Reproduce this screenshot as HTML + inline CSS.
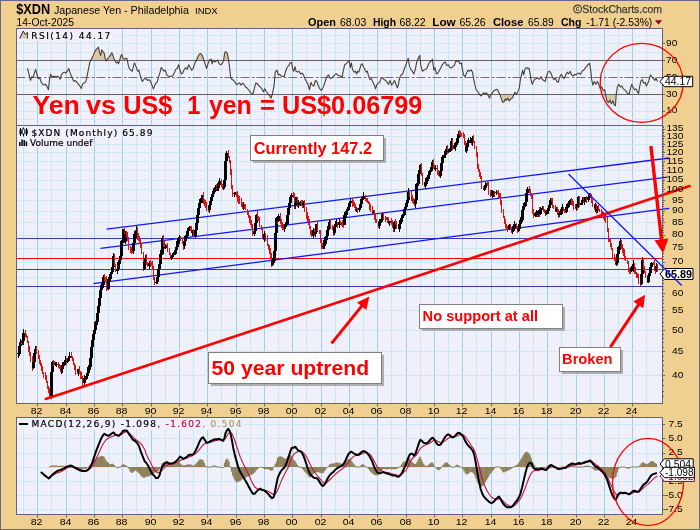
<!DOCTYPE html>
<html><head><meta charset="utf-8"><title>$XDN Japanese Yen - Philadelphia</title>
<style>html,body{margin:0;padding:0;background:#f0d090;}svg{display:block}</style></head>
<body><svg width="700" height="530" viewBox="0 0 700 530" font-family="'Liberation Sans', Arial, sans-serif">
<rect x="0" y="0" width="700" height="530" fill="#f0d090"/>
<rect x="0.5" y="0.5" width="699" height="529" fill="none" stroke="#686888" stroke-width="1"/>
<rect x="16.5" y="28.5" width="646.0" height="375.0" fill="#f0f0fa"/>
<rect x="16.5" y="417.5" width="646.0" height="97.0" fill="#f0f0fa"/>
<path d="M23.5 28.5V403.5M23.5 417.5V514.5" stroke="#c6e8f2" stroke-width="1"/><path d="M37.5 28.5V403.5M37.5 417.5V514.5" stroke="#a0d0ee" stroke-width="1"/><path d="M51.5 28.5V403.5M51.5 417.5V514.5" stroke="#c6e8f2" stroke-width="1"/><path d="M66.5 28.5V403.5M66.5 417.5V514.5" stroke="#a0d0ee" stroke-width="1"/><path d="M80.5 28.5V403.5M80.5 417.5V514.5" stroke="#c6e8f2" stroke-width="1"/><path d="M94.5 28.5V403.5M94.5 417.5V514.5" stroke="#a0d0ee" stroke-width="1"/><path d="M108.5 28.5V403.5M108.5 417.5V514.5" stroke="#c6e8f2" stroke-width="1"/><path d="M122.5 28.5V403.5M122.5 417.5V514.5" stroke="#a0d0ee" stroke-width="1"/><path d="M136.5 28.5V403.5M136.5 417.5V514.5" stroke="#c6e8f2" stroke-width="1"/><path d="M151.5 28.5V403.5M151.5 417.5V514.5" stroke="#a0d0ee" stroke-width="1"/><path d="M165.5 28.5V403.5M165.5 417.5V514.5" stroke="#c6e8f2" stroke-width="1"/><path d="M179.5 28.5V403.5M179.5 417.5V514.5" stroke="#a0d0ee" stroke-width="1"/><path d="M193.5 28.5V403.5M193.5 417.5V514.5" stroke="#c6e8f2" stroke-width="1"/><path d="M207.5 28.5V403.5M207.5 417.5V514.5" stroke="#a0d0ee" stroke-width="1"/><path d="M221.5 28.5V403.5M221.5 417.5V514.5" stroke="#c6e8f2" stroke-width="1"/><path d="M236.5 28.5V403.5M236.5 417.5V514.5" stroke="#a0d0ee" stroke-width="1"/><path d="M250.5 28.5V403.5M250.5 417.5V514.5" stroke="#c6e8f2" stroke-width="1"/><path d="M264.5 28.5V403.5M264.5 417.5V514.5" stroke="#a0d0ee" stroke-width="1"/><path d="M278.5 28.5V403.5M278.5 417.5V514.5" stroke="#c6e8f2" stroke-width="1"/><path d="M292.5 28.5V403.5M292.5 417.5V514.5" stroke="#a0d0ee" stroke-width="1"/><path d="M306.5 28.5V403.5M306.5 417.5V514.5" stroke="#c6e8f2" stroke-width="1"/><path d="M321.5 28.5V403.5M321.5 417.5V514.5" stroke="#a0d0ee" stroke-width="1"/><path d="M335.5 28.5V403.5M335.5 417.5V514.5" stroke="#c6e8f2" stroke-width="1"/><path d="M349.5 28.5V403.5M349.5 417.5V514.5" stroke="#a0d0ee" stroke-width="1"/><path d="M363.5 28.5V403.5M363.5 417.5V514.5" stroke="#c6e8f2" stroke-width="1"/><path d="M377.5 28.5V403.5M377.5 417.5V514.5" stroke="#a0d0ee" stroke-width="1"/><path d="M391.5 28.5V403.5M391.5 417.5V514.5" stroke="#c6e8f2" stroke-width="1"/><path d="M406.5 28.5V403.5M406.5 417.5V514.5" stroke="#a0d0ee" stroke-width="1"/><path d="M420.5 28.5V403.5M420.5 417.5V514.5" stroke="#c6e8f2" stroke-width="1"/><path d="M434.5 28.5V403.5M434.5 417.5V514.5" stroke="#a0d0ee" stroke-width="1"/><path d="M448.5 28.5V403.5M448.5 417.5V514.5" stroke="#c6e8f2" stroke-width="1"/><path d="M462.5 28.5V403.5M462.5 417.5V514.5" stroke="#a0d0ee" stroke-width="1"/><path d="M476.5 28.5V403.5M476.5 417.5V514.5" stroke="#c6e8f2" stroke-width="1"/><path d="M491.5 28.5V403.5M491.5 417.5V514.5" stroke="#a0d0ee" stroke-width="1"/><path d="M505.5 28.5V403.5M505.5 417.5V514.5" stroke="#c6e8f2" stroke-width="1"/><path d="M519.5 28.5V403.5M519.5 417.5V514.5" stroke="#a0d0ee" stroke-width="1"/><path d="M533.5 28.5V403.5M533.5 417.5V514.5" stroke="#c6e8f2" stroke-width="1"/><path d="M547.5 28.5V403.5M547.5 417.5V514.5" stroke="#a0d0ee" stroke-width="1"/><path d="M561.5 28.5V403.5M561.5 417.5V514.5" stroke="#c6e8f2" stroke-width="1"/><path d="M576.5 28.5V403.5M576.5 417.5V514.5" stroke="#a0d0ee" stroke-width="1"/><path d="M590.5 28.5V403.5M590.5 417.5V514.5" stroke="#c6e8f2" stroke-width="1"/><path d="M604.5 28.5V403.5M604.5 417.5V514.5" stroke="#a0d0ee" stroke-width="1"/><path d="M618.5 28.5V403.5M618.5 417.5V514.5" stroke="#c6e8f2" stroke-width="1"/><path d="M632.5 28.5V403.5M632.5 417.5V514.5" stroke="#a0d0ee" stroke-width="1"/><path d="M646.5 28.5V403.5M646.5 417.5V514.5" stroke="#c6e8f2" stroke-width="1"/>
<path d="M16.5 111.5H662.5" stroke="#cdeaf3" stroke-width="1" />
<path d="M16.5 102.5H662.5" stroke="#cdeaf3" stroke-width="1" />
<path d="M16.5 85.5H662.5" stroke="#cdeaf3" stroke-width="1" />
<path d="M16.5 69.5H662.5" stroke="#cdeaf3" stroke-width="1" />
<path d="M16.5 52.5H662.5" stroke="#cdeaf3" stroke-width="1" />
<path d="M16.5 43.5H662.5" stroke="#cdeaf3" stroke-width="1" />
<path d="M16.5 35.5H662.5" stroke="#cdeaf3" stroke-width="1" />
<path d="M16.5 119.5H662.5" stroke="#cdeaf3" stroke-width="1" />
<path d="M16.5 375.5H662.5" stroke="#cdeaf3" stroke-width="1" />
<path d="M16.5 351.5H662.5" stroke="#cdeaf3" stroke-width="1" />
<path d="M16.5 330.5H662.5" stroke="#cdeaf3" stroke-width="1" />
<path d="M16.5 310.5H662.5" stroke="#cdeaf3" stroke-width="1" />
<path d="M16.5 293.5H662.5" stroke="#cdeaf3" stroke-width="1" />
<path d="M16.5 277.5H662.5" stroke="#cdeaf3" stroke-width="1" />
<path d="M16.5 262.5H662.5" stroke="#cdeaf3" stroke-width="1" />
<path d="M16.5 248.5H662.5" stroke="#cdeaf3" stroke-width="1" />
<path d="M16.5 235.5H662.5" stroke="#cdeaf3" stroke-width="1" />
<path d="M16.5 222.5H662.5" stroke="#cdeaf3" stroke-width="1" />
<path d="M16.5 211.5H662.5" stroke="#cdeaf3" stroke-width="1" />
<path d="M16.5 200.5H662.5" stroke="#cdeaf3" stroke-width="1" />
<path d="M16.5 189.5H662.5" stroke="#cdeaf3" stroke-width="1" />
<path d="M16.5 180.5H662.5" stroke="#cdeaf3" stroke-width="1" />
<path d="M16.5 170.5H662.5" stroke="#cdeaf3" stroke-width="1" />
<path d="M16.5 161.5H662.5" stroke="#cdeaf3" stroke-width="1" />
<path d="M16.5 152.5H662.5" stroke="#cdeaf3" stroke-width="1" />
<path d="M16.5 144.5H662.5" stroke="#cdeaf3" stroke-width="1" />
<path d="M16.5 136.5H662.5" stroke="#cdeaf3" stroke-width="1" />
<path d="M16.5 129.5H662.5" stroke="#cdeaf3" stroke-width="1" />
<path d="M16.5 509.5H662.5" stroke="#cdeaf3" stroke-width="1" />
<path d="M16.5 495.5H662.5" stroke="#cdeaf3" stroke-width="1" />
<path d="M16.5 481.5H662.5" stroke="#cdeaf3" stroke-width="1" />
<path d="M16.5 467.5H662.5" stroke="#cdeaf3" stroke-width="1" />
<path d="M16.5 453.5H662.5" stroke="#cdeaf3" stroke-width="1" />
<path d="M16.5 438.5H662.5" stroke="#cdeaf3" stroke-width="1" />
<path d="M16.5 424.5H662.5" stroke="#cdeaf3" stroke-width="1" />
<rect x="17" y="29" width="97" height="12" fill="#f0f0fa"/>
<rect x="17" y="126" width="137" height="11" fill="#f0f0fa"/>
<rect x="17" y="137" width="77" height="10" fill="#f0f0fa"/>
<rect x="17" y="418" width="227" height="12" fill="#f0f0fa"/>
<polygon points="90.7,60.5 91.4,59.1 92.9,56.4 94.4,52.6 95.8,49.9 97.3,48.4 98.5,47.1 99.6,52.6 100.7,55.4 101.8,49.9 102.9,51.7 104.0,52.6 105.1,58.2 106.1,60.5" fill="#d9c8ae"/>
<polygon points="106.5,60.5 107.4,59.1 108.8,57.3 110.3,55.4 111.8,52.6 112.9,55.4 114.0,59.1 114.9,60.5" fill="#d9c8ae"/>
<polygon points="119.5,60.5 119.6,60.1 120.7,56.4 121.8,54.5 123.0,58.2 124.5,59.1 125.9,58.2 127.0,58.8 127.4,60.5" fill="#d9c8ae"/>
<polygon points="196.3,60.5 197.6,57.3 199.1,54.5 200.6,53.6 202.1,55.1 203.6,59.1 204.0,60.5" fill="#d9c8ae"/>
<polygon points="209.3,60.5 209.5,60.1 211.0,59.1 211.3,60.5" fill="#d9c8ae"/>
<polygon points="213.1,60.5 213.2,60.1 213.6,60.5" fill="#d9c8ae"/>
<polygon points="217.0,60.5 217.7,60.1 217.9,60.5" fill="#d9c8ae"/>
<polygon points="223.4,60.5 223.6,60.1 224.7,52.6 225.8,51.7 227.3,53.6 228.4,59.1 228.6,60.5" fill="#d9c8ae"/>
<polygon points="407.3,60.5 408.2,58.2 408.6,60.5" fill="#d9c8ae"/>
<polygon points="417.3,60.5 418.3,58.2 419.7,55.4 420.3,60.5" fill="#d9c8ae"/>
<polygon points="431.6,60.5 432.4,59.1 432.6,60.5" fill="#d9c8ae"/>
<polygon points="268.6,94.5 269.3,95.3 271.2,98.1 272.1,94.5" fill="#d9c8ae"/>
<polygon points="479.8,94.5 480.6,95.9 482.1,94.8 482.3,94.5" fill="#d9c8ae"/>
<polygon points="487.6,94.5 488.1,95.3 489.6,98.1 491.0,94.5" fill="#d9c8ae"/>
<polygon points="500.0,94.5 501.1,98.1 502.6,102.2 504.1,101.8 505.2,99.1 506.3,100.4 507.8,98.1 509.2,100.9 510.7,99.1 512.2,98.1 513.7,95.3 514.0,94.5" fill="#d9c8ae"/>
<polygon points="605.5,94.5 605.8,96.3 606.9,100.9 608.4,102.8 609.9,100.0 611.4,103.7 612.9,100.9 614.4,105.2 615.5,105.6 616.2,94.5" fill="#d9c8ae"/>
<path d="M16.5 60.5H662.5" stroke="#606060" stroke-width="1" />
<path d="M16.5 94.5H662.5" stroke="#606060" stroke-width="1" />
<path d="M16.5 77.5H662.5" stroke="#707070" stroke-width="1" stroke-dasharray="9 2.5 2.5 2"/>
<polyline fill="none" stroke="#484038" stroke-width="1.1" stroke-linejoin="round" points="27.51,68.43 29.0,74.0 30.48,80.5 31.78,76.78 33.08,77.71 34.57,72.14 35.68,69.35 36.8,74.0 38.28,78.64 39.77,77.71 41.26,82.35 42.74,84.21 44.23,85.14 45.71,84.21 47.2,87.0 48.5,89.78 49.43,79.57 50.54,74.37 52.03,76.78 53.88,76.23 55.74,76.78 57.6,76.23 59.08,77.34 60.2,79.2 61.31,74.93 62.8,73.07 64.28,72.14 65.77,73.07 67.25,71.21 68.74,68.43 69.85,72.14 71.34,75.85 72.82,79.57 73.94,81.43 75.42,80.5 76.91,82.35 78.4,84.21 79.88,86.07 81.37,88.48 82.48,84.21 83.97,82.91 85.45,82.35 86.57,78.64 87.68,73.07 88.79,67.5 89.91,61.93 91.39,59.14 92.88,56.36 94.37,52.64 95.85,49.86 97.34,48.37 98.45,47.07 99.57,52.64 100.68,55.43 101.79,49.86 102.91,51.71 104.02,52.64 105.14,58.21 106.25,61.0 107.36,59.14 108.85,57.28 110.34,55.43 111.82,52.64 112.94,55.43 114.05,59.14 115.16,61.0 116.28,62.86 117.39,61.93 118.51,63.78 119.62,60.07 120.74,56.36 121.85,54.5 122.96,58.21 124.45,59.14 125.94,58.21 127.05,58.77 128.16,64.71 129.28,68.43 130.76,70.28 132.25,71.21 133.36,66.57 134.48,62.86 135.59,65.64 136.71,68.43 137.82,71.21 138.93,70.28 140.05,74.93 141.16,78.64 142.28,81.43 143.76,79.57 144.88,78.64 146.0,78.64 147.49,80.5 148.97,79.57 150.46,81.43 151.94,85.14 153.43,88.85 154.54,86.07 155.66,83.28 157.14,82.35 158.63,76.78 160.11,72.14 161.23,67.5 162.71,69.35 163.83,71.21 165.31,70.28 166.8,74.93 168.28,75.85 169.77,76.78 171.26,76.23 172.74,75.85 174.23,73.07 175.71,69.35 177.2,68.43 178.68,64.71 179.8,69.35 181.28,74.0 182.77,73.07 184.25,69.35 185.74,67.5 187.23,69.35 188.71,64.71 190.2,67.5 191.68,70.28 193.17,68.43 194.65,63.78 196.14,61.0 197.62,57.28 199.11,54.5 200.6,53.57 202.08,55.06 203.57,59.14 205.05,63.78 206.54,68.43 208.02,63.78 209.51,60.07 211.0,59.14 212.11,63.78 213.22,60.07 214.71,61.93 216.19,61.0 217.68,60.07 219.17,63.78 220.65,64.71 222.14,63.78 223.62,60.07 224.74,52.64 225.85,51.71 227.34,53.57 228.45,59.14 229.57,67.5 230.68,77.71 232.17,79.57 233.65,80.5 235.14,82.35 236.62,84.77 238.11,83.65 239.59,82.91 241.08,85.14 242.56,83.28 244.05,84.21 245.54,87.0 247.02,87.92 248.51,89.78 249.99,91.64 251.48,93.5 252.96,94.05 254.45,87.92 255.94,82.91 257.42,83.65 258.91,86.07 260.39,87.0 261.88,88.85 263.36,91.64 264.85,88.85 266.33,91.64 267.82,93.5 269.31,95.35 271.16,98.14 272.65,92.57 274.13,85.14 275.25,72.14 276.0,71.21 277.11,70.28 278.23,74.93 279.71,74.37 281.2,75.85 282.69,76.23 284.17,76.78 285.66,71.21 287.14,67.5 288.63,65.64 290.11,62.86 291.6,62.48 292.71,69.35 293.83,71.21 294.94,66.57 296.06,71.21 297.54,72.14 299.03,71.21 300.51,74.0 302.0,73.07 303.48,74.93 304.97,78.64 306.45,81.43 307.94,84.21 309.43,89.78 310.91,82.35 312.4,85.14 313.88,86.07 315.37,80.5 316.85,81.43 318.34,86.07 319.83,88.85 321.31,90.34 322.8,87.92 324.28,84.21 325.77,79.57 327.25,75.85 328.74,74.93 330.22,78.64 331.71,77.71 333.2,76.78 334.68,74.93 336.17,73.63 337.65,74.93 339.14,75.48 340.62,76.23 342.11,76.78 343.22,71.21 344.71,64.71 346.19,63.78 347.68,61.93 349.17,61.0 350.28,67.5 351.39,62.86 352.51,69.35 353.99,72.14 355.48,71.21 356.59,74.0 357.71,71.21 358.82,72.14 359.94,68.43 361.05,64.71 362.17,63.78 363.28,66.57 364.77,69.35 366.25,72.14 367.36,71.21 368.48,75.85 369.96,79.57 371.45,78.64 372.94,82.35 374.42,85.14 375.54,88.85 376.65,85.14 378.14,83.28 379.62,82.35 381.11,78.64 382.59,77.71 384.08,79.57 385.56,80.5 387.05,82.35 388.53,84.21 390.02,80.5 391.51,85.14 392.99,83.28 394.48,80.5 395.96,84.21 397.45,87.92 398.56,84.21 399.68,77.71 401.16,74.93 402.65,74.0 404.13,69.35 405.25,66.57 406.0,64.71 407.11,61.0 408.23,58.21 409.34,65.64 410.83,69.35 412.31,71.21 413.8,74.0 415.29,69.35 416.77,61.93 418.26,58.21 419.74,55.43 420.86,65.64 422.34,71.21 423.83,70.28 425.31,69.35 426.8,68.43 428.28,64.71 429.77,61.93 431.26,61.0 432.37,59.14 433.86,70.28 434.97,67.5 436.45,74.0 437.94,73.07 439.43,70.28 440.91,67.5 442.4,64.71 443.88,62.86 445.37,61.93 446.85,65.64 448.34,64.71 449.83,67.5 451.31,68.05 452.8,66.57 454.28,65.64 455.77,61.0 457.25,61.37 458.74,61.0 459.85,63.78 461.34,62.86 462.45,69.35 463.57,74.93 465.05,76.78 466.54,73.07 468.02,70.28 469.51,71.21 471.0,69.91 472.48,72.14 473.6,78.64 474.71,84.21 476.19,89.78 477.68,91.64 479.17,93.5 480.65,95.91 482.14,94.8 483.62,92.57 485.11,94.05 486.59,92.94 488.08,95.35 489.57,98.14 491.05,94.42 492.54,92.57 494.02,90.71 495.51,89.78 496.99,89.22 498.48,91.64 499.96,94.42 501.08,98.14 502.56,102.22 504.05,101.85 505.16,99.07 506.28,100.37 507.76,98.14 509.25,100.92 510.74,99.07 512.22,98.14 513.71,95.35 514.82,92.2 516.31,94.42 517.79,91.64 519.28,87.92 520.39,79.57 521.51,74.93 522.62,70.28 523.73,74.93 524.85,69.35 526.33,67.5 527.82,68.43 528.93,68.05 530.05,73.07 531.16,80.5 532.28,84.21 533.39,81.43 534.51,79.57 536.0,78.64 537.86,78.08 539.34,79.2 540.83,76.78 542.31,79.57 543.8,80.5 545.29,81.43 546.4,76.78 547.88,72.14 549.37,71.21 550.86,73.07 552.34,76.78 553.83,79.57 555.31,77.71 556.8,81.43 558.28,82.35 559.77,76.78 561.26,74.37 562.74,76.78 564.23,78.64 565.71,74.93 567.2,72.14 568.68,74.0 570.17,71.21 571.65,74.93 573.14,75.85 574.63,74.37 576.11,74.93 577.6,73.63 579.08,73.07 580.57,74.37 582.05,71.21 583.54,70.28 585.03,68.43 586.51,66.57 588.0,64.71 589.48,63.23 590.6,69.35 591.71,79.57 592.82,85.14 594.31,81.43 595.8,84.21 597.28,81.43 598.77,84.21 600.25,88.85 601.74,87.0 603.22,90.71 604.71,89.78 605.82,96.28 606.94,100.92 608.42,102.78 609.91,100.0 611.39,103.71 612.88,100.92 614.37,105.19 615.48,105.57 616.22,94.42 617.34,87.0 618.82,84.21 620.31,87.0 621.79,86.07 623.28,88.85 624.77,89.78 626.25,91.64 627.74,93.5 629.22,94.05 630.34,88.85 631.82,84.21 632.94,87.0 634.42,89.78 635.91,88.85 637.39,91.64 638.51,93.5 639.62,87.0 640.74,81.43 642.22,79.57 643.71,83.28 645.19,82.35 646.31,86.07 647.42,84.21 648.91,80.5 650.39,74.93 651.88,76.78 653.36,78.64 654.85,80.5 655.96,78.08 657.45,81.43"/>
<path d="M16.5 238.5H662.5" stroke="#3a3ac0" stroke-width="1" />
<path d="M16.5 269.5H662.5" stroke="#3a3ac0" stroke-width="1" />
<path d="M16.5 286.5H662.5" stroke="#3a3ac0" stroke-width="1" />
<path d="M16.5 258.5H662.5" stroke="#ff0000" stroke-width="1" />
<line x1="106.6" y1="229.2" x2="669.3" y2="158" stroke="#1414ff" stroke-width="1.3"/>
<line x1="100.4" y1="248.3" x2="667.4" y2="177.2" stroke="#1414ff" stroke-width="1.3"/>
<line x1="93.4" y1="283.6" x2="669.3" y2="208.4" stroke="#1414ff" stroke-width="1.3"/>
<g shape-rendering="crispEdges">
<path d="M17.5 350.7h1V353.1h1V354.3h-1V357.8h-1V354.3h-1V353.1h1zM18.5 343.9h1V346.1h1V353.6h-1V356.0h-1V353.6h-1V346.1h1zM19.5 339.4h1V341.6h1V346.1h-1V348.6h-1V346.1h-1V341.6h1z" fill="#000"/>
<path d="M20.5 340.4h1V341.2h0.5V342.4h-0.5V343.9h-1z" fill="#e01010"/>
<path d="M21.5 338.0h1V341.1h1V342.3h-1V345.1h-1V342.3h-1V341.1h1zM22.5 329.1h1V332.9h1V341.4h-1V345.1h-1V341.4h-1V332.9h1z" fill="#000"/>
<path d="M24.5 330.3h1V332.9h0.5V336.2h-0.5V337.2h-1zM25.5 333.9h1V336.2h0.5V337.4h-0.5V338.1h-1zM26.5 336.1h1V337.4h0.5V342.7h-0.5V343.3h-1zM27.5 340.7h1V342.7h0.5V348.5h-0.5V351.8h-1zM28.5 345.9h1V348.5h0.5V353.7h-0.5V355.8h-1zM29.5 351.7h1V353.7h0.5V360.2h-0.5V361.6h-1zM31.5 356.4h1V360.2h0.5V367.8h-0.5V371.0h-1z" fill="#e01010"/>
<path d="M32.5 360.1h1V361.7h1V367.8h-1V369.0h-1V367.8h-1V361.7h1zM33.5 352.5h1V353.2h1V361.7h-1V364.7h-1V361.7h-1V353.2h1zM34.5 345.8h1V349.1h1V353.2h-1V355.0h-1V353.2h-1V349.1h1z" fill="#000"/>
<path d="M35.5 345.8h1V349.1h0.5V353.0h-0.5V353.5h-1zM37.5 349.5h1V353.0h0.5V356.8h-0.5V358.8h-1zM38.5 354.9h1V356.8h0.5V362.7h-0.5V363.5h-1zM39.5 359.7h1V362.7h0.5V364.9h-0.5V366.3h-1zM40.5 363.3h1V364.9h0.5V366.8h-0.5V370.5h-1zM41.5 365.9h1V366.8h0.5V373.1h-0.5V374.4h-1zM42.5 372.4h1V373.1h0.5V374.4h-0.5V377.5h-1zM44.5 372.0h1V374.4h0.5V378.2h-0.5V380.2h-1zM45.5 375.3h1V378.2h0.5V381.8h-0.5V382.8h-1zM46.5 381.0h1V381.8h0.5V387.1h-0.5V389.0h-1zM47.5 385.7h1V387.1h0.5V389.4h-0.5V393.1h-1zM48.5 387.9h1V389.4h0.5V395.7h-0.5V399.1h-1z" fill="#e01010"/>
<path d="M50.5 369.7h1V371.5h1V395.7h-1V399.0h-1V395.7h-1V371.5h1zM51.5 360.6h1V361.5h1V371.5h-1V375.2h-1V371.5h-1V361.5h1z" fill="#000"/>
<path d="M52.5 360.0h1V361.3h0.5V362.5h-0.5V365.6h-1zM53.5 360.9h1V362.4h0.5V364.7h-0.5V365.4h-1z" fill="#e01010"/>
<path d="M54.5 361.5h1V363.9h1V365.1h-1V366.4h-1V365.1h-1V363.9h1zM55.5 362.0h1V363.7h1V364.9h-1V366.9h-1V364.9h-1V363.7h1z" fill="#000"/>
<path d="M57.5 362.0h1V364.1h0.5V365.3h-0.5V367.7h-1zM58.5 364.1h1V365.2h0.5V367.8h-0.5V368.8h-1zM59.5 364.6h1V367.8h0.5V370.1h-0.5V371.5h-1z" fill="#e01010"/>
<path d="M60.5 366.1h1V369.0h1V370.2h-1V373.8h-1V370.2h-1V369.0h1zM61.5 361.6h1V365.2h1V369.0h-1V372.5h-1V369.0h-1V365.2h1zM63.5 359.8h1V361.7h1V365.2h-1V366.1h-1V365.2h-1V361.7h1zM64.5 356.0h1V359.7h1V361.7h-1V363.0h-1V361.7h-1V359.7h1z" fill="#000"/>
<path d="M65.5 358.3h1V359.7h0.5V361.8h-0.5V365.0h-1z" fill="#e01010"/>
<path d="M66.5 359.3h1V360.7h1V361.9h-1V363.0h-1V361.9h-1V360.7h1zM67.5 357.6h1V358.3h1V360.8h-1V362.1h-1V360.8h-1V358.3h1zM68.5 352.2h1V355.5h1V358.3h-1V360.9h-1V358.3h-1V355.5h1z" fill="#000"/>
<path d="M70.5 352.0h1V355.5h0.5V357.2h-0.5V358.4h-1zM71.5 355.8h1V357.2h0.5V359.2h-0.5V361.1h-1zM72.5 358.1h1V359.2h0.5V363.4h-0.5V365.2h-1zM73.5 362.5h1V363.4h0.5V368.4h-0.5V370.1h-1zM74.5 364.7h1V368.4h0.5V371.9h-0.5V374.5h-1zM76.5 369.0h1V371.4h0.5V372.6h-0.5V373.6h-1z" fill="#e01010"/>
<path d="M77.5 368.7h1V369.3h1V372.2h-1V375.7h-1V372.2h-1V369.3h1z" fill="#000"/>
<path d="M78.5 365.6h1V369.3h0.5V373.1h-0.5V373.6h-1zM79.5 371.0h1V373.1h0.5V375.8h-0.5V378.7h-1zM80.5 372.0h1V375.8h0.5V378.5h-0.5V379.2h-1zM81.5 375.6h1V378.5h0.5V383.1h-0.5V386.6h-1z" fill="#e01010"/>
<path d="M83.5 375.3h1V378.2h1V383.1h-1V386.2h-1V383.1h-1V378.2h1zM84.5 375.7h1V377.4h1V378.6h-1V381.3h-1V378.6h-1V377.4h1zM85.5 373.0h1V376.4h1V377.8h-1V379.7h-1V377.8h-1V376.4h1zM86.5 369.1h1V372.5h1V376.4h-1V378.8h-1V376.4h-1V372.5h1zM87.5 365.3h1V367.1h1V372.5h-1V374.9h-1V372.5h-1V367.1h1zM89.5 357.0h1V357.7h1V367.1h-1V369.7h-1V367.1h-1V357.7h1zM90.5 343.6h1V347.0h1V357.7h-1V360.7h-1V357.7h-1V347.0h1zM91.5 337.1h1V340.0h1V347.0h-1V349.4h-1V347.0h-1V340.0h1zM92.5 331.0h1V334.3h1V340.0h-1V340.8h-1V340.0h-1V334.3h1zM93.5 328.9h1V329.5h1V334.3h-1V336.8h-1V334.3h-1V329.5h1zM94.5 320.6h1V321.8h1V329.5h-1V332.3h-1V329.5h-1V321.8h1zM96.5 310.1h1V312.6h1V321.8h-1V325.4h-1V321.8h-1V312.6h1zM97.5 305.5h1V306.1h1V312.6h-1V314.1h-1V312.6h-1V306.1h1zM98.5 296.8h1V298.0h1V306.1h-1V307.1h-1V306.1h-1V298.0h1zM99.5 286.8h1V289.5h1V298.0h-1V299.9h-1V298.0h-1V289.5h1zM100.5 283.4h1V285.0h1V289.5h-1V292.2h-1V289.5h-1V285.0h1zM102.5 275.4h1V277.3h1V285.0h-1V288.2h-1V285.0h-1V277.3h1z" fill="#000"/>
<path d="M103.5 273.9h1V277.3h0.5V278.9h-0.5V280.7h-1zM104.5 276.9h1V278.5h0.5V279.7h-0.5V280.6h-1zM105.5 276.0h1V279.2h0.5V287.3h-0.5V290.6h-1zM106.5 283.7h1V287.3h0.5V289.0h-0.5V290.4h-1z" fill="#e01010"/>
<path d="M107.5 276.7h1V278.6h1V289.0h-1V290.4h-1V289.0h-1V278.6h1zM109.5 272.3h1V274.1h1V278.6h-1V281.2h-1V278.6h-1V274.1h1zM110.5 270.4h1V271.9h1V274.1h-1V277.4h-1V274.1h-1V271.9h1zM111.5 264.6h1V266.6h1V271.9h-1V272.7h-1V271.9h-1V266.6h1zM112.5 252.6h1V256.0h1V266.6h-1V267.2h-1V266.6h-1V256.0h1z" fill="#000"/>
<path d="M113.5 253.6h1V256.0h0.5V264.3h-0.5V265.9h-1zM114.5 263.8h1V264.3h0.5V271.1h-0.5V272.1h-1z" fill="#e01010"/>
<path d="M116.5 268.4h1V269.0h1V271.1h-1V274.4h-1V271.1h-1V269.0h1zM117.5 261.4h1V262.4h1V269.0h-1V269.7h-1V269.0h-1V262.4h1zM118.5 258.1h1V260.1h1V262.4h-1V265.0h-1V262.4h-1V260.1h1zM119.5 252.5h1V255.6h1V260.1h-1V263.8h-1V260.1h-1V255.6h1zM120.5 239.8h1V241.0h1V255.6h-1V257.7h-1V255.6h-1V241.0h1zM122.5 228.5h1V229.1h1V241.0h-1V243.1h-1V241.0h-1V229.1h1z" fill="#000"/>
<path d="M123.5 228.0h1V229.1h0.5V241.9h-0.5V243.3h-1z" fill="#e01010"/>
<path d="M124.5 231.1h1V233.9h1V241.9h-1V244.1h-1V241.9h-1V233.9h1z" fill="#000"/>
<path d="M125.5 230.9h1V233.9h0.5V235.1h-0.5V236.9h-1zM126.5 231.6h1V235.1h0.5V240.3h-0.5V241.0h-1zM127.5 237.4h1V240.3h0.5V248.7h-0.5V249.7h-1zM129.5 246.0h1V248.6h0.5V249.8h-0.5V253.3h-1zM130.5 246.9h1V249.3h0.5V250.5h-0.5V253.9h-1zM131.5 246.3h1V249.9h0.5V251.1h-0.5V253.1h-1z" fill="#e01010"/>
<path d="M132.5 241.4h1V242.6h1V250.9h-1V253.7h-1V250.9h-1V242.6h1zM133.5 231.4h1V234.0h1V242.6h-1V245.5h-1V242.6h-1V234.0h1zM135.5 226.2h1V229.6h1V234.0h-1V237.7h-1V234.0h-1V229.6h1z" fill="#000"/>
<path d="M136.5 227.4h1V229.6h0.5V236.4h-0.5V239.5h-1zM137.5 232.7h1V236.2h0.5V237.4h-0.5V240.7h-1zM138.5 236.4h1V237.1h0.5V241.6h-0.5V243.6h-1zM139.5 238.6h1V241.6h0.5V246.0h-0.5V248.2h-1zM140.5 242.9h1V246.0h0.5V253.3h-0.5V254.0h-1zM142.5 252.2h1V253.3h0.5V269.1h-0.5V270.7h-1z" fill="#e01010"/>
<path d="M143.5 260.6h1V261.6h1V269.1h-1V270.1h-1V269.1h-1V261.6h1zM144.5 254.9h1V257.8h1V261.6h-1V264.8h-1V261.6h-1V257.8h1z" fill="#000"/>
<path d="M145.5 254.2h1V257.8h0.5V262.3h-0.5V264.5h-1zM146.5 261.6h1V262.3h0.5V265.9h-0.5V267.1h-1z" fill="#e01010"/>
<path d="M148.5 261.2h1V262.7h1V265.9h-1V268.8h-1V265.9h-1V262.7h1z" fill="#000"/>
<path d="M149.5 260.1h1V262.4h0.5V263.6h-0.5V266.9h-1zM150.5 261.7h1V263.2h0.5V264.4h-0.5V266.2h-1zM151.5 261.0h1V264.4h0.5V269.2h-0.5V270.3h-1zM152.5 265.5h1V269.2h0.5V277.9h-0.5V280.1h-1zM153.5 276.7h1V277.9h0.5V282.9h-0.5V285.2h-1z" fill="#e01010"/>
<path d="M155.5 279.3h1V281.8h1V283.0h-1V283.6h-1V283.0h-1V281.8h1zM156.5 275.0h1V277.2h1V281.9h-1V283.7h-1V281.9h-1V277.2h1zM157.5 267.0h1V269.3h1V277.2h-1V279.3h-1V277.2h-1V269.3h1zM158.5 263.0h1V263.8h1V269.3h-1V271.6h-1V269.3h-1V263.8h1zM159.5 250.1h1V253.8h1V263.8h-1V267.3h-1V263.8h-1V253.8h1zM161.5 236.2h1V238.3h1V253.8h-1V254.7h-1V253.8h-1V238.3h1z" fill="#000"/>
<path d="M162.5 235.1h1V238.3h0.5V242.4h-0.5V245.9h-1zM163.5 240.9h1V242.4h0.5V248.2h-0.5V249.3h-1z" fill="#e01010"/>
<path d="M164.5 243.5h1V247.1h1V248.3h-1V249.2h-1V248.3h-1V247.1h1zM165.5 244.8h1V245.4h1V247.2h-1V248.3h-1V247.2h-1V245.4h1z" fill="#000"/>
<path d="M166.5 242.6h1V245.4h0.5V250.7h-0.5V252.3h-1zM168.5 248.1h1V250.7h0.5V254.1h-0.5V254.9h-1zM169.5 253.2h1V254.1h0.5V257.3h-0.5V259.4h-1z" fill="#e01010"/>
<path d="M170.5 255.4h1V256.5h1V257.7h-1V260.0h-1V257.7h-1V256.5h1zM171.5 253.6h1V255.4h1V257.0h-1V258.9h-1V257.0h-1V255.4h1zM172.5 251.7h1V252.7h1V255.4h-1V256.5h-1V255.4h-1V252.7h1zM174.5 247.6h1V250.2h1V252.7h-1V255.0h-1V252.7h-1V250.2h1zM175.5 244.7h1V247.2h1V250.2h-1V253.5h-1V250.2h-1V247.2h1zM176.5 238.0h1V240.9h1V247.2h-1V250.4h-1V247.2h-1V240.9h1zM177.5 238.5h1V240.1h1V241.3h-1V242.8h-1V241.3h-1V240.1h1zM178.5 235.3h1V236.5h1V240.4h-1V244.2h-1V240.4h-1V236.5h1z" fill="#000"/>
<path d="M179.5 235.6h1V236.5h0.5V239.5h-0.5V240.8h-1zM181.5 238.1h1V239.5h0.5V243.6h-0.5V244.4h-1zM182.5 241.7h1V243.6h0.5V246.4h-0.5V249.5h-1z" fill="#e01010"/>
<path d="M183.5 239.3h1V241.2h1V246.4h-1V249.1h-1V246.4h-1V241.2h1zM184.5 234.9h1V236.1h1V241.2h-1V243.9h-1V241.2h-1V236.1h1zM185.5 231.6h1V235.3h1V236.5h-1V237.3h-1V236.5h-1V235.3h1zM186.5 227.5h1V230.5h1V235.7h-1V237.8h-1V235.7h-1V230.5h1zM188.5 225.9h1V227.0h1V230.5h-1V231.3h-1V230.5h-1V227.0h1z" fill="#000"/>
<path d="M189.5 226.4h1V227.0h0.5V228.3h-0.5V230.6h-1zM190.5 225.9h1V228.3h0.5V232.0h-0.5V233.0h-1z" fill="#e01010"/>
<path d="M191.5 230.3h1V231.4h1V232.6h-1V235.9h-1V232.6h-1V231.4h1z" fill="#000"/>
<path d="M192.5 228.5h1V232.0h0.5V236.3h-0.5V237.2h-1z" fill="#e01010"/>
<path d="M194.5 226.3h1V230.0h1V236.3h-1V238.4h-1V236.3h-1V230.0h1zM195.5 221.3h1V222.9h1V230.0h-1V232.0h-1V230.0h-1V222.9h1zM196.5 213.4h1V215.3h1V222.9h-1V225.4h-1V222.9h-1V215.3h1zM197.5 204.7h1V207.5h1V215.3h-1V218.6h-1V215.3h-1V207.5h1zM198.5 201.0h1V203.0h1V207.5h-1V210.4h-1V207.5h-1V203.0h1zM199.5 197.9h1V199.0h1V203.0h-1V204.0h-1V203.0h-1V199.0h1zM201.5 194.5h1V195.1h1V199.0h-1V202.5h-1V199.0h-1V195.1h1z" fill="#000"/>
<path d="M202.5 192.2h1V195.1h0.5V200.7h-0.5V204.0h-1zM203.5 198.9h1V200.7h0.5V203.2h-0.5V205.7h-1zM204.5 199.5h1V203.2h0.5V205.1h-0.5V208.3h-1zM205.5 201.6h1V205.1h0.5V208.5h-0.5V211.4h-1zM207.5 205.3h1V208.5h0.5V210.1h-0.5V211.9h-1z" fill="#e01010"/>
<path d="M208.5 202.0h1V205.4h1V210.1h-1V212.9h-1V210.1h-1V205.4h1zM209.5 197.5h1V200.5h1V205.4h-1V207.2h-1V205.4h-1V200.5h1zM210.5 196.7h1V197.4h1V200.5h-1V202.1h-1V200.5h-1V197.4h1zM211.5 193.4h1V193.9h1V197.4h-1V199.1h-1V197.4h-1V193.9h1zM212.5 188.3h1V190.8h1V193.9h-1V195.2h-1V193.9h-1V190.8h1zM214.5 184.5h1V187.2h1V190.8h-1V192.4h-1V190.8h-1V187.2h1z" fill="#000"/>
<path d="M215.5 184.4h1V186.8h0.5V188.0h-0.5V190.2h-1z" fill="#e01010"/>
<path d="M216.5 183.0h1V186.8h1V188.0h-1V190.6h-1V188.0h-1V186.8h1zM217.5 182.4h1V185.4h1V187.2h-1V190.9h-1V187.2h-1V185.4h1zM218.5 178.4h1V181.0h1V185.4h-1V188.3h-1V185.4h-1V181.0h1z" fill="#000"/>
<path d="M220.5 179.1h1V181.0h0.5V185.8h-0.5V186.5h-1zM221.5 184.1h1V185.8h0.5V187.7h-0.5V188.5h-1z" fill="#e01010"/>
<path d="M222.5 183.3h1V186.8h1V188.0h-1V190.3h-1V188.0h-1V186.8h1zM223.5 176.4h1V180.1h1V187.0h-1V189.4h-1V187.0h-1V180.1h1zM224.5 158.6h1V161.2h1V180.1h-1V183.3h-1V180.1h-1V161.2h1zM225.5 150.9h1V153.4h1V161.2h-1V164.2h-1V161.2h-1V153.4h1z" fill="#000"/>
<path d="M227.5 149.8h1V153.4h0.5V156.6h-0.5V157.6h-1zM228.5 155.5h1V156.6h0.5V160.3h-0.5V162.5h-1zM229.5 159.6h1V160.3h0.5V171.2h-0.5V174.8h-1zM230.5 168.9h1V171.2h0.5V186.2h-0.5V188.6h-1zM231.5 184.7h1V186.2h0.5V194.4h-0.5V197.1h-1z" fill="#e01010"/>
<path d="M233.5 191.5h1V192.9h1V194.4h-1V197.3h-1V194.4h-1V192.9h1zM234.5 191.6h1V192.1h1V193.3h-1V194.6h-1V193.3h-1V192.1h1z" fill="#000"/>
<path d="M235.5 191.5h1V192.6h0.5V194.2h-0.5V197.2h-1zM236.5 190.7h1V194.2h0.5V199.1h-0.5V202.1h-1zM237.5 195.1h1V198.8h0.5V200.0h-0.5V203.7h-1zM238.5 196.3h1V199.8h0.5V201.6h-0.5V203.5h-1zM240.5 197.9h1V201.6h0.5V205.3h-0.5V206.6h-1zM241.5 201.6h1V205.1h0.5V206.3h-0.5V209.2h-1z" fill="#e01010"/>
<path d="M242.5 201.5h1V205.2h1V206.4h-1V209.6h-1V206.4h-1V205.2h1z" fill="#000"/>
<path d="M243.5 204.0h1V204.9h0.5V206.1h-0.5V208.6h-1zM244.5 204.4h1V205.5h0.5V209.4h-0.5V210.1h-1zM246.5 208.5h1V209.4h0.5V213.0h-0.5V214.9h-1zM247.5 211.0h1V213.0h0.5V216.7h-0.5V218.1h-1zM248.5 214.8h1V216.7h0.5V220.1h-0.5V223.2h-1zM249.5 216.3h1V220.1h0.5V221.4h-0.5V225.1h-1zM250.5 220.2h1V221.4h0.5V226.7h-0.5V227.6h-1zM251.5 223.6h1V226.7h0.5V233.7h-0.5V236.2h-1z" fill="#e01010"/>
<path d="M253.5 230.0h1V231.4h1V233.7h-1V236.4h-1V233.7h-1V231.4h1zM254.5 220.2h1V222.7h1V231.4h-1V234.0h-1V231.4h-1V222.7h1zM255.5 213.8h1V215.0h1V222.7h-1V224.0h-1V222.7h-1V215.0h1z" fill="#000"/>
<path d="M256.5 211.4h1V215.0h0.5V216.3h-0.5V219.7h-1zM257.5 215.6h1V216.3h0.5V219.5h-0.5V220.8h-1zM258.5 216.9h1V219.5h0.5V226.0h-0.5V226.8h-1zM260.5 225.3h1V226.0h0.5V229.6h-0.5V230.4h-1zM261.5 227.3h1V229.6h0.5V235.7h-0.5V238.3h-1zM262.5 233.6h1V235.7h0.5V239.1h-0.5V240.2h-1z" fill="#e01010"/>
<path d="M263.5 231.1h1V234.1h1V239.1h-1V242.3h-1V239.1h-1V234.1h1z" fill="#000"/>
<path d="M264.5 233.2h1V234.1h0.5V237.7h-0.5V240.8h-1zM266.5 234.6h1V237.7h0.5V245.0h-0.5V246.2h-1zM267.5 243.7h1V245.0h0.5V247.2h-0.5V250.4h-1zM268.5 244.6h1V247.2h0.5V250.0h-0.5V253.8h-1zM269.5 247.7h1V250.0h0.5V255.2h-0.5V258.2h-1zM270.5 253.3h1V255.2h0.5V264.8h-0.5V266.6h-1z" fill="#e01010"/>
<path d="M271.5 257.8h1V261.2h1V264.8h-1V265.6h-1V264.8h-1V261.2h1zM273.5 248.2h1V250.6h1V261.2h-1V263.3h-1V261.2h-1V250.6h1zM274.5 231.4h1V232.8h1V250.6h-1V253.6h-1V250.6h-1V232.8h1zM275.5 216.7h1V217.9h1V232.8h-1V235.5h-1V232.8h-1V217.9h1z" fill="#000"/>
<path d="M276.5 216.4h1V217.9h0.5V221.4h-0.5V224.2h-1z" fill="#e01010"/>
<path d="M277.5 214.3h1V215.7h1V221.4h-1V222.3h-1V221.4h-1V215.7h1z" fill="#000"/>
<path d="M279.5 212.8h1V215.7h0.5V222.0h-0.5V223.7h-1zM280.5 219.2h1V222.0h0.5V225.2h-0.5V227.6h-1zM281.5 221.6h1V225.2h0.5V226.6h-0.5V230.1h-1zM282.5 223.5h1V226.6h0.5V228.2h-0.5V229.7h-1z" fill="#e01010"/>
<path d="M283.5 225.1h1V226.9h1V228.2h-1V231.8h-1V228.2h-1V226.9h1zM284.5 222.3h1V223.6h1V226.9h-1V228.6h-1V226.9h-1V223.6h1zM286.5 213.7h1V215.4h1V223.6h-1V225.4h-1V223.6h-1V215.4h1zM287.5 207.1h1V208.3h1V215.4h-1V217.8h-1V215.4h-1V208.3h1zM288.5 200.5h1V202.8h1V208.3h-1V211.5h-1V208.3h-1V202.8h1zM289.5 196.2h1V197.3h1V202.8h-1V205.8h-1V202.8h-1V197.3h1zM290.5 193.3h1V194.8h1V197.3h-1V197.8h-1V197.3h-1V194.8h1z" fill="#000"/>
<path d="M292.5 192.1h1V194.4h0.5V195.6h-0.5V198.0h-1zM293.5 192.6h1V195.2h0.5V205.8h-0.5V209.0h-1z" fill="#e01010"/>
<path d="M294.5 200.3h1V202.6h1V205.8h-1V208.9h-1V205.8h-1V202.6h1zM295.5 196.7h1V197.4h1V202.6h-1V205.6h-1V202.6h-1V197.4h1z" fill="#000"/>
<path d="M296.5 196.7h1V197.4h0.5V204.9h-0.5V207.4h-1z" fill="#e01010"/>
<path d="M297.5 199.9h1V202.9h1V204.9h-1V207.5h-1V204.9h-1V202.9h1zM299.5 201.0h1V202.2h1V203.4h-1V206.4h-1V203.4h-1V202.2h1z" fill="#000"/>
<path d="M300.5 199.7h1V202.7h0.5V204.6h-0.5V206.4h-1zM301.5 200.4h1V204.1h0.5V205.3h-0.5V208.1h-1z" fill="#e01010"/>
<path d="M302.5 200.9h1V203.2h1V204.8h-1V207.7h-1V204.8h-1V203.2h1z" fill="#000"/>
<path d="M303.5 199.7h1V203.2h0.5V209.8h-0.5V211.7h-1zM305.5 207.1h1V209.8h0.5V215.3h-0.5V218.6h-1zM306.5 212.0h1V215.3h0.5V218.4h-0.5V221.8h-1zM307.5 215.7h1V218.4h0.5V222.3h-0.5V224.6h-1zM308.5 219.2h1V222.3h0.5V226.6h-0.5V228.5h-1zM309.5 225.6h1V226.6h0.5V232.1h-0.5V235.1h-1zM310.5 230.4h1V232.1h0.5V236.3h-0.5V237.4h-1z" fill="#e01010"/>
<path d="M312.5 227.7h1V229.6h1V236.3h-1V237.8h-1V236.3h-1V229.6h1z" fill="#000"/>
<path d="M313.5 229.0h1V229.6h0.5V234.4h-0.5V235.9h-1z" fill="#e01010"/>
<path d="M314.5 228.9h1V231.6h1V234.4h-1V237.4h-1V234.4h-1V231.6h1zM315.5 223.6h1V224.3h1V231.6h-1V233.6h-1V231.6h-1V224.3h1z" fill="#000"/>
<path d="M316.5 220.8h1V224.3h0.5V230.6h-0.5V231.3h-1zM318.5 229.5h1V230.6h0.5V232.9h-0.5V234.1h-1zM319.5 230.0h1V232.9h0.5V240.2h-0.5V242.6h-1zM320.5 239.1h1V240.2h0.5V247.0h-0.5V248.5h-1zM321.5 243.4h1V246.4h0.5V247.6h-0.5V249.2h-1z" fill="#e01010"/>
<path d="M322.5 242.5h1V245.7h1V247.0h-1V249.1h-1V247.0h-1V245.7h1zM323.5 236.7h1V240.1h1V245.7h-1V249.2h-1V245.7h-1V240.1h1zM325.5 233.5h1V235.8h1V240.1h-1V243.8h-1V240.1h-1V235.8h1zM326.5 229.2h1V230.4h1V235.8h-1V236.5h-1V235.8h-1V230.4h1zM327.5 223.3h1V226.4h1V230.4h-1V232.2h-1V230.4h-1V226.4h1zM328.5 219.5h1V221.7h1V226.4h-1V227.8h-1V226.4h-1V221.7h1z" fill="#000"/>
<path d="M329.5 219.0h1V221.7h0.5V227.5h-0.5V228.8h-1zM331.5 225.4h1V227.4h0.5V228.6h-0.5V230.4h-1zM332.5 225.7h1V228.6h0.5V233.2h-0.5V235.7h-1z" fill="#e01010"/>
<path d="M333.5 226.0h1V227.0h1V233.2h-1V234.8h-1V233.2h-1V227.0h1zM334.5 221.0h1V224.4h1V227.0h-1V229.2h-1V227.0h-1V224.4h1zM335.5 219.0h1V222.8h1V224.4h-1V225.7h-1V224.4h-1V222.8h1z" fill="#000"/>
<path d="M336.5 221.8h1V222.8h0.5V224.6h-0.5V227.6h-1z" fill="#e01010"/>
<path d="M338.5 218.4h1V221.6h1V224.6h-1V227.9h-1V224.6h-1V221.6h1z" fill="#000"/>
<path d="M339.5 220.7h1V221.5h0.5V222.7h-0.5V224.1h-1zM340.5 221.7h1V222.5h0.5V223.7h-0.5V225.8h-1zM341.5 219.8h1V223.5h0.5V224.7h-0.5V227.1h-1zM342.5 222.4h1V223.9h0.5V225.1h-0.5V228.2h-1z" fill="#e01010"/>
<path d="M343.5 211.7h1V215.2h1V224.5h-1V225.3h-1V224.5h-1V215.2h1zM345.5 209.5h1V210.7h1V215.2h-1V217.5h-1V215.2h-1V210.7h1zM346.5 208.2h1V209.3h1V210.7h-1V213.9h-1V210.7h-1V209.3h1zM347.5 205.1h1V206.6h1V209.3h-1V210.0h-1V209.3h-1V206.6h1zM348.5 200.9h1V203.0h1V206.6h-1V209.5h-1V206.6h-1V203.0h1zM349.5 197.7h1V200.5h1V203.0h-1V203.8h-1V203.0h-1V200.5h1z" fill="#000"/>
<path d="M351.5 198.4h1V200.5h0.5V203.0h-0.5V206.7h-1zM352.5 200.4h1V203.0h0.5V205.5h-0.5V206.1h-1zM353.5 202.4h1V205.2h0.5V206.4h-0.5V207.7h-1zM354.5 204.1h1V206.1h0.5V210.9h-0.5V211.4h-1z" fill="#e01010"/>
<path d="M355.5 206.8h1V209.9h1V211.1h-1V212.3h-1V211.1h-1V209.9h1z" fill="#000"/>
<path d="M356.5 208.2h1V209.6h0.5V210.8h-0.5V212.6h-1z" fill="#e01010"/>
<path d="M358.5 206.4h1V207.9h1V210.3h-1V212.0h-1V210.3h-1V207.9h1zM359.5 201.0h1V203.7h1V207.9h-1V209.2h-1V207.9h-1V203.7h1zM360.5 196.5h1V199.4h1V203.7h-1V205.3h-1V203.7h-1V199.4h1zM361.5 196.1h1V198.5h1V199.7h-1V202.5h-1V199.7h-1V198.5h1zM362.5 192.3h1V195.6h1V198.7h-1V199.5h-1V198.7h-1V195.6h1z" fill="#000"/>
<path d="M364.5 194.7h1V195.6h0.5V198.6h-0.5V201.3h-1zM365.5 197.5h1V198.6h0.5V199.9h-0.5V201.8h-1zM366.5 197.5h1V199.9h0.5V201.8h-0.5V202.6h-1zM367.5 200.5h1V201.6h0.5V202.8h-0.5V203.7h-1zM368.5 201.8h1V202.5h0.5V206.1h-0.5V209.7h-1zM369.5 204.0h1V206.1h0.5V209.2h-0.5V211.8h-1zM371.5 206.0h1V209.2h0.5V212.8h-0.5V214.6h-1z" fill="#e01010"/>
<path d="M372.5 210.3h1V212.2h1V213.4h-1V213.9h-1V213.4h-1V212.2h1z" fill="#000"/>
<path d="M373.5 209.9h1V212.7h0.5V215.9h-0.5V219.6h-1zM374.5 213.2h1V215.9h0.5V220.6h-0.5V223.1h-1zM375.5 218.8h1V220.4h0.5V221.6h-0.5V223.2h-1zM377.5 220.6h1V221.4h0.5V226.0h-0.5V227.8h-1z" fill="#e01010"/>
<path d="M378.5 218.6h1V221.7h1V226.0h-1V229.3h-1V226.0h-1V221.7h1zM379.5 219.9h1V220.9h1V222.1h-1V225.2h-1V222.1h-1V220.9h1zM380.5 216.6h1V218.9h1V221.3h-1V223.0h-1V221.3h-1V218.9h1zM381.5 212.9h1V213.8h1V218.9h-1V221.7h-1V218.9h-1V213.8h1z" fill="#000"/>
<path d="M382.5 211.6h1V213.8h0.5V217.5h-0.5V220.3h-1zM384.5 216.2h1V217.3h0.5V218.5h-0.5V222.2h-1zM385.5 217.2h1V218.4h0.5V219.7h-0.5V220.4h-1zM386.5 217.0h1V219.4h0.5V220.6h-0.5V223.4h-1zM387.5 216.7h1V220.3h0.5V222.0h-0.5V223.7h-1z" fill="#e01010"/>
<path d="M388.5 220.5h1V221.4h1V222.6h-1V226.3h-1V222.6h-1V221.4h1z" fill="#000"/>
<path d="M390.5 217.9h1V221.3h0.5V222.5h-0.5V224.8h-1zM391.5 219.6h1V222.0h0.5V226.3h-0.5V227.7h-1zM392.5 222.5h1V226.3h0.5V228.9h-0.5V232.1h-1z" fill="#e01010"/>
<path d="M393.5 221.2h1V222.1h1V228.9h-1V232.2h-1V228.9h-1V222.1h1z" fill="#000"/>
<path d="M394.5 218.7h1V222.1h0.5V223.9h-0.5V225.2h-1zM395.5 220.7h1V223.9h0.5V227.5h-0.5V228.6h-1zM397.5 226.7h1V227.4h0.5V228.6h-0.5V229.2h-1z" fill="#e01010"/>
<path d="M398.5 220.4h1V224.1h1V228.5h-1V232.1h-1V228.5h-1V224.1h1zM399.5 220.4h1V221.9h1V224.1h-1V226.8h-1V224.1h-1V221.9h1zM400.5 216.5h1V218.3h1V221.9h-1V224.3h-1V221.9h-1V218.3h1zM401.5 214.0h1V214.5h1V218.3h-1V219.4h-1V218.3h-1V214.5h1zM403.5 208.4h1V209.4h1V214.5h-1V216.3h-1V214.5h-1V209.4h1zM404.5 205.7h1V206.7h1V209.4h-1V211.6h-1V209.4h-1V206.7h1zM405.5 200.3h1V202.7h1V206.7h-1V208.3h-1V206.7h-1V202.7h1zM406.5 199.7h1V200.3h1V202.7h-1V205.4h-1V202.7h-1V200.3h1zM407.5 187.9h1V191.6h1V200.3h-1V202.8h-1V200.3h-1V191.6h1z" fill="#000"/>
<path d="M408.5 189.7h1V191.6h0.5V194.0h-0.5V196.5h-1zM410.5 191.0h1V194.0h0.5V198.4h-0.5V201.4h-1zM411.5 194.5h1V198.3h0.5V199.5h-0.5V202.8h-1zM412.5 197.6h1V199.4h0.5V202.3h-0.5V204.2h-1zM413.5 198.8h1V202.3h0.5V204.2h-0.5V206.4h-1z" fill="#e01010"/>
<path d="M414.5 197.8h1V199.7h1V204.2h-1V207.6h-1V204.2h-1V199.7h1zM415.5 183.3h1V183.9h1V199.7h-1V202.6h-1V199.7h-1V183.9h1zM417.5 171.5h1V174.4h1V183.9h-1V186.4h-1V183.9h-1V174.4h1zM418.5 168.6h1V170.2h1V174.4h-1V176.9h-1V174.4h-1V170.2h1zM419.5 164.1h1V165.0h1V170.2h-1V172.1h-1V170.2h-1V165.0h1z" fill="#000"/>
<path d="M420.5 163.2h1V165.0h0.5V175.2h-0.5V175.9h-1zM421.5 173.0h1V175.2h0.5V183.4h-0.5V184.7h-1zM423.5 181.6h1V183.4h0.5V185.6h-0.5V186.8h-1z" fill="#e01010"/>
<path d="M424.5 178.3h1V181.8h1V185.6h-1V189.3h-1V185.6h-1V181.8h1zM425.5 177.4h1V180.8h1V182.0h-1V183.8h-1V182.0h-1V180.8h1zM426.5 177.3h1V178.5h1V181.0h-1V183.9h-1V181.0h-1V178.5h1zM427.5 171.2h1V174.7h1V178.5h-1V179.3h-1V178.5h-1V174.7h1zM428.5 170.0h1V170.9h1V174.7h-1V177.0h-1V174.7h-1V170.9h1zM430.5 166.8h1V167.3h1V170.9h-1V172.2h-1V170.9h-1V167.3h1zM431.5 160.2h1V161.8h1V167.3h-1V168.0h-1V167.3h-1V161.8h1z" fill="#000"/>
<path d="M432.5 158.6h1V161.8h0.5V166.9h-0.5V168.7h-1zM433.5 164.5h1V166.9h0.5V169.0h-0.5V169.7h-1z" fill="#e01010"/>
<path d="M434.5 164.5h1V168.0h1V169.2h-1V170.7h-1V169.2h-1V168.0h1z" fill="#000"/>
<path d="M436.5 164.5h1V168.1h0.5V170.7h-0.5V174.5h-1zM437.5 169.6h1V170.7h0.5V174.1h-0.5V175.6h-1zM438.5 170.7h1V174.1h0.5V176.0h-0.5V177.2h-1z" fill="#e01010"/>
<path d="M439.5 169.4h1V171.1h1V176.0h-1V178.1h-1V176.0h-1V171.1h1zM440.5 159.4h1V162.8h1V171.1h-1V174.9h-1V171.1h-1V162.8h1zM441.5 154.7h1V157.2h1V162.8h-1V164.0h-1V162.8h-1V157.2h1zM443.5 154.3h1V154.9h1V157.2h-1V158.1h-1V157.2h-1V154.9h1zM444.5 149.0h1V150.6h1V154.9h-1V158.4h-1V154.9h-1V150.6h1zM445.5 145.7h1V148.5h1V150.6h-1V151.5h-1V150.6h-1V148.5h1z" fill="#000"/>
<path d="M446.5 145.0h1V148.5h0.5V151.8h-0.5V153.8h-1z" fill="#e01010"/>
<path d="M447.5 149.4h1V150.6h1V151.8h-1V153.4h-1V151.8h-1V150.6h1zM449.5 147.1h1V148.2h1V150.6h-1V151.7h-1V150.6h-1V148.2h1zM450.5 138.0h1V140.7h1V148.2h-1V151.3h-1V148.2h-1V140.7h1z" fill="#000"/>
<path d="M451.5 138.1h1V140.7h0.5V146.9h-0.5V150.4h-1zM452.5 145.1h1V146.4h0.5V147.6h-0.5V149.1h-1z" fill="#e01010"/>
<path d="M453.5 143.6h1V146.3h1V147.5h-1V148.9h-1V147.5h-1V146.3h1zM454.5 141.9h1V142.7h1V146.8h-1V150.5h-1V146.8h-1V142.7h1zM456.5 135.8h1V138.1h1V142.7h-1V145.0h-1V142.7h-1V138.1h1zM457.5 131.1h1V133.5h1V138.1h-1V139.5h-1V138.1h-1V133.5h1z" fill="#000"/>
<path d="M458.5 129.8h1V132.9h0.5V134.1h-0.5V134.9h-1zM459.5 130.6h1V133.5h0.5V135.5h-0.5V136.8h-1zM460.5 132.8h1V135.1h0.5V136.3h-0.5V137.4h-1zM462.5 132.2h1V136.0h0.5V137.2h-0.5V137.8h-1zM463.5 134.2h1V137.2h0.5V143.5h-0.5V145.2h-1zM464.5 141.3h1V143.5h0.5V151.1h-0.5V152.2h-1z" fill="#e01010"/>
<path d="M465.5 144.7h1V147.3h1V151.1h-1V152.8h-1V151.1h-1V147.3h1zM466.5 139.9h1V143.0h1V147.3h-1V149.6h-1V147.3h-1V143.0h1zM467.5 137.7h1V141.0h1V143.0h-1V145.8h-1V143.0h-1V141.0h1zM469.5 136.7h1V140.4h1V141.6h-1V142.7h-1V141.6h-1V140.4h1z" fill="#000"/>
<path d="M470.5 139.9h1V141.0h0.5V142.6h-0.5V145.1h-1z" fill="#e01010"/>
<path d="M471.5 136.4h1V138.4h1V142.6h-1V145.6h-1V142.6h-1V138.4h1z" fill="#000"/>
<path d="M472.5 135.3h1V138.4h0.5V141.9h-0.5V143.2h-1zM473.5 140.7h1V141.9h0.5V146.4h-0.5V148.8h-1zM475.5 145.8h1V146.4h0.5V154.8h-0.5V157.2h-1zM476.5 152.4h1V154.8h0.5V165.4h-0.5V168.8h-1zM477.5 164.4h1V165.4h0.5V171.0h-0.5V171.6h-1zM478.5 169.1h1V171.0h0.5V175.4h-0.5V177.4h-1zM479.5 172.3h1V175.4h0.5V178.2h-0.5V178.9h-1zM480.5 175.8h1V178.2h0.5V187.1h-0.5V189.4h-1zM482.5 185.8h1V187.1h0.5V188.6h-0.5V189.6h-1z" fill="#e01010"/>
<path d="M483.5 187.1h1V187.8h1V189.0h-1V190.5h-1V189.0h-1V187.8h1zM484.5 182.3h1V184.5h1V188.1h-1V189.5h-1V188.1h-1V184.5h1zM485.5 182.6h1V183.4h1V184.6h-1V187.8h-1V184.6h-1V183.4h1z" fill="#000"/>
<path d="M486.5 182.1h1V183.5h0.5V184.9h-0.5V185.9h-1zM487.5 181.6h1V184.9h0.5V191.6h-0.5V194.7h-1zM489.5 189.7h1V191.6h0.5V195.1h-0.5V196.8h-1z" fill="#e01010"/>
<path d="M490.5 190.3h1V194.0h1V195.2h-1V195.9h-1V195.2h-1V194.0h1zM491.5 190.4h1V193.4h1V194.6h-1V198.4h-1V194.6h-1V193.4h1zM492.5 190.5h1V192.5h1V193.9h-1V196.9h-1V193.9h-1V192.5h1z" fill="#000"/>
<path d="M493.5 190.8h1V192.1h0.5V193.3h-0.5V196.7h-1z" fill="#e01010"/>
<path d="M495.5 190.3h1V192.1h1V193.3h-1V194.8h-1V193.3h-1V192.1h1z" fill="#000"/>
<path d="M496.5 191.3h1V192.1h0.5V193.3h-0.5V193.9h-1zM497.5 189.8h1V192.8h0.5V194.7h-0.5V197.6h-1zM498.5 193.0h1V194.3h0.5V195.5h-0.5V197.9h-1zM499.5 193.2h1V195.2h0.5V201.2h-0.5V204.8h-1zM500.5 199.6h1V201.2h0.5V209.5h-0.5V213.3h-1zM502.5 208.9h1V209.5h0.5V216.3h-0.5V218.2h-1zM503.5 215.6h1V216.3h0.5V222.4h-0.5V224.0h-1zM504.5 219.0h1V222.4h0.5V225.8h-0.5V228.3h-1zM505.5 223.8h1V225.8h0.5V227.9h-0.5V229.7h-1zM506.5 225.9h1V227.7h0.5V228.9h-0.5V232.0h-1z" fill="#e01010"/>
<path d="M508.5 223.7h1V225.3h1V228.7h-1V229.8h-1V228.7h-1V225.3h1z" fill="#000"/>
<path d="M509.5 224.3h1V225.3h0.5V229.1h-0.5V230.3h-1zM510.5 227.0h1V229.1h0.5V231.0h-0.5V232.5h-1z" fill="#e01010"/>
<path d="M511.5 226.4h1V230.2h1V231.4h-1V234.1h-1V231.4h-1V230.2h1zM512.5 226.5h1V227.7h1V230.6h-1V232.3h-1V230.6h-1V227.7h1zM513.5 221.0h1V223.8h1V227.7h-1V229.4h-1V227.7h-1V223.8h1z" fill="#000"/>
<path d="M515.5 223.2h1V223.8h0.5V228.1h-0.5V229.2h-1zM516.5 226.3h1V228.1h0.5V229.3h-0.5V232.9h-1z" fill="#e01010"/>
<path d="M517.5 227.2h1V228.6h1V229.8h-1V231.5h-1V229.8h-1V228.6h1zM518.5 220.6h1V224.2h1V229.0h-1V230.7h-1V229.0h-1V224.2h1zM519.5 217.2h1V220.1h1V224.2h-1V227.7h-1V224.2h-1V220.1h1zM521.5 208.5h1V210.0h1V220.1h-1V221.9h-1V220.1h-1V210.0h1zM522.5 202.9h1V206.3h1V210.0h-1V211.6h-1V210.0h-1V206.3h1zM523.5 203.3h1V205.5h1V206.7h-1V207.4h-1V206.7h-1V205.5h1zM524.5 200.3h1V201.6h1V205.9h-1V206.5h-1V205.9h-1V201.6h1zM525.5 190.6h1V193.1h1V201.6h-1V202.2h-1V201.6h-1V193.1h1zM526.5 187.3h1V189.2h1V193.1h-1V195.4h-1V193.1h-1V189.2h1z" fill="#000"/>
<path d="M528.5 186.4h1V189.2h0.5V191.3h-0.5V192.6h-1zM529.5 188.6h1V191.3h0.5V194.5h-0.5V195.5h-1zM530.5 193.1h1V194.5h0.5V195.8h-0.5V198.7h-1zM531.5 194.1h1V195.8h0.5V210.8h-0.5V214.1h-1zM532.5 209.3h1V210.8h0.5V216.4h-0.5V218.0h-1z" fill="#e01010"/>
<path d="M534.5 212.2h1V212.8h1V216.4h-1V217.0h-1V216.4h-1V212.8h1zM535.5 209.8h1V212.2h1V213.4h-1V216.6h-1V213.4h-1V212.2h1z" fill="#000"/>
<path d="M536.5 211.3h1V212.8h0.5V214.5h-0.5V217.3h-1z" fill="#e01010"/>
<path d="M537.5 209.5h1V210.7h1V214.5h-1V217.3h-1V214.5h-1V210.7h1z" fill="#000"/>
<path d="M538.5 207.1h1V210.7h0.5V213.8h-0.5V217.1h-1z" fill="#e01010"/>
<path d="M539.5 206.7h1V209.3h1V213.8h-1V214.6h-1V213.8h-1V209.3h1zM541.5 206.2h1V208.0h1V209.3h-1V210.0h-1V209.3h-1V208.0h1z" fill="#000"/>
<path d="M542.5 206.4h1V208.0h0.5V210.2h-0.5V212.3h-1zM543.5 209.1h1V210.1h0.5V211.3h-0.5V213.1h-1zM544.5 210.1h1V211.2h0.5V213.6h-0.5V216.3h-1z" fill="#e01010"/>
<path d="M545.5 210.4h1V211.2h1V213.6h-1V215.2h-1V213.6h-1V211.2h1zM547.5 206.6h1V207.6h1V211.2h-1V213.6h-1V211.2h-1V207.6h1zM548.5 202.6h1V204.9h1V207.6h-1V210.4h-1V207.6h-1V204.9h1zM549.5 197.7h1V199.5h1V204.9h-1V206.6h-1V204.9h-1V199.5h1z" fill="#000"/>
<path d="M550.5 197.6h1V199.4h0.5V200.6h-0.5V201.3h-1zM551.5 198.1h1V200.6h0.5V206.2h-0.5V208.2h-1zM552.5 204.8h1V206.2h0.5V208.1h-0.5V208.7h-1zM554.5 204.7h1V208.1h0.5V210.1h-0.5V212.4h-1z" fill="#e01010"/>
<path d="M555.5 206.6h1V209.3h1V210.5h-1V211.6h-1V210.5h-1V209.3h1z" fill="#000"/>
<path d="M556.5 207.2h1V209.8h0.5V211.0h-0.5V214.6h-1zM557.5 208.5h1V210.9h0.5V214.2h-0.5V217.8h-1z" fill="#e01010"/>
<path d="M558.5 210.8h1V213.4h1V214.6h-1V217.1h-1V214.6h-1V213.4h1zM560.5 206.8h1V208.6h1V213.8h-1V215.2h-1V213.8h-1V208.6h1zM561.5 204.3h1V207.7h1V208.9h-1V210.6h-1V208.9h-1V207.7h1z" fill="#000"/>
<path d="M562.5 207.3h1V207.9h0.5V210.2h-0.5V211.2h-1zM563.5 208.5h1V210.0h0.5V211.2h-0.5V212.9h-1zM564.5 209.6h1V210.6h0.5V211.8h-0.5V213.0h-1z" fill="#e01010"/>
<path d="M565.5 203.8h1V206.5h1V211.5h-1V212.8h-1V211.5h-1V206.5h1zM567.5 200.7h1V202.9h1V206.5h-1V208.3h-1V206.5h-1V202.9h1zM568.5 199.9h1V202.0h1V203.2h-1V205.9h-1V203.2h-1V202.0h1zM569.5 199.0h1V201.5h1V202.7h-1V205.1h-1V202.7h-1V201.5h1z" fill="#000"/>
<path d="M570.5 198.1h1V201.8h0.5V203.0h-0.5V204.6h-1zM571.5 199.4h1V202.8h0.5V204.0h-0.5V205.6h-1zM572.5 201.3h1V204.0h0.5V207.0h-0.5V209.8h-1zM574.5 203.8h1V207.0h0.5V208.3h-0.5V209.3h-1z" fill="#e01010"/>
<path d="M575.5 204.4h1V206.5h1V208.3h-1V210.7h-1V208.3h-1V206.5h1z" fill="#000"/>
<path d="M576.5 204.7h1V206.2h0.5V207.4h-0.5V210.3h-1z" fill="#e01010"/>
<path d="M577.5 196.0h1V197.3h1V207.1h-1V208.4h-1V207.1h-1V197.3h1z" fill="#000"/>
<path d="M578.5 196.2h1V197.3h0.5V204.5h-0.5V206.7h-1z" fill="#e01010"/>
<path d="M580.5 202.1h1V202.8h1V204.5h-1V205.3h-1V204.5h-1V202.8h1zM581.5 197.1h1V199.9h1V202.8h-1V203.7h-1V202.8h-1V199.9h1z" fill="#000"/>
<path d="M582.5 196.9h1V199.9h0.5V201.2h-0.5V203.3h-1z" fill="#e01010"/>
<path d="M583.5 196.6h1V200.0h1V201.2h-1V204.6h-1V201.2h-1V200.0h1zM584.5 196.8h1V198.1h1V200.0h-1V202.2h-1V200.0h-1V198.1h1z" fill="#000"/>
<path d="M585.5 196.3h1V198.1h0.5V200.1h-0.5V202.9h-1z" fill="#e01010"/>
<path d="M587.5 194.1h1V196.9h1V200.1h-1V201.6h-1V200.1h-1V196.9h1zM588.5 192.6h1V195.7h1V196.9h-1V200.2h-1V196.9h-1V195.7h1z" fill="#000"/>
<path d="M589.5 192.9h1V195.3h0.5V196.5h-0.5V198.4h-1zM590.5 193.6h1V196.2h0.5V199.8h-0.5V203.0h-1zM591.5 198.9h1V199.8h0.5V205.0h-0.5V206.7h-1zM593.5 203.7h1V205.0h0.5V208.4h-0.5V209.6h-1z" fill="#e01010"/>
<path d="M594.5 202.9h1V205.3h1V208.4h-1V212.0h-1V208.4h-1V205.3h1z" fill="#000"/>
<path d="M595.5 204.4h1V205.3h0.5V211.3h-0.5V214.1h-1z" fill="#e01010"/>
<path d="M596.5 206.4h1V209.0h1V211.3h-1V213.1h-1V211.3h-1V209.0h1z" fill="#000"/>
<path d="M597.5 205.0h1V208.8h0.5V210.0h-0.5V210.7h-1zM598.5 209.0h1V209.8h0.5V211.7h-0.5V212.3h-1zM600.5 208.7h1V211.6h0.5V212.8h-0.5V216.6h-1zM601.5 211.2h1V212.7h0.5V214.1h-0.5V214.7h-1zM602.5 212.0h1V214.1h0.5V217.0h-0.5V218.8h-1zM603.5 213.4h1V216.5h0.5V217.7h-0.5V221.0h-1zM604.5 215.4h1V217.2h0.5V220.3h-0.5V222.9h-1zM606.5 216.6h1V220.3h0.5V229.8h-0.5V231.5h-1zM607.5 227.5h1V229.8h0.5V238.8h-0.5V241.9h-1zM608.5 237.7h1V238.8h0.5V240.7h-0.5V241.6h-1zM609.5 239.4h1V240.7h0.5V244.6h-0.5V246.7h-1zM610.5 243.0h1V244.6h0.5V249.1h-0.5V249.6h-1zM611.5 248.1h1V249.1h0.5V255.1h-0.5V257.7h-1zM613.5 253.9h1V255.1h0.5V258.8h-0.5V260.9h-1zM614.5 257.4h1V258.8h0.5V264.0h-0.5V264.7h-1z" fill="#e01010"/>
<path d="M615.5 259.2h1V262.6h1V264.0h-1V265.5h-1V264.0h-1V262.6h1zM616.5 253.2h1V254.3h1V262.6h-1V264.7h-1V262.6h-1V254.3h1zM617.5 245.8h1V247.0h1V254.3h-1V257.6h-1V254.3h-1V247.0h1zM619.5 239.2h1V241.0h1V247.0h-1V250.2h-1V247.0h-1V241.0h1z" fill="#000"/>
<path d="M620.5 240.4h1V241.0h0.5V246.9h-0.5V249.2h-1zM621.5 244.3h1V246.9h0.5V251.7h-0.5V253.1h-1zM622.5 248.1h1V251.4h0.5V252.6h-0.5V256.4h-1zM623.5 249.2h1V252.4h0.5V257.0h-0.5V259.8h-1zM624.5 256.4h1V257.0h0.5V260.2h-0.5V261.3h-1zM626.5 259.5h1V260.2h0.5V262.5h-0.5V264.2h-1zM627.5 261.0h1V262.5h0.5V269.5h-0.5V271.7h-1zM628.5 267.8h1V269.0h0.5V270.2h-0.5V273.8h-1zM629.5 267.2h1V269.5h0.5V270.7h-0.5V273.9h-1z" fill="#e01010"/>
<path d="M630.5 265.5h1V268.4h1V270.5h-1V272.3h-1V270.5h-1V268.4h1zM632.5 260.3h1V263.5h1V268.4h-1V271.5h-1V268.4h-1V263.5h1z" fill="#000"/>
<path d="M633.5 262.7h1V263.5h0.5V269.9h-0.5V273.5h-1zM634.5 267.0h1V269.9h0.5V272.1h-0.5V273.5h-1zM635.5 271.6h1V272.1h0.5V275.2h-0.5V277.6h-1zM636.5 273.4h1V275.2h0.5V276.7h-0.5V278.4h-1zM637.5 273.5h1V276.7h0.5V282.2h-0.5V283.9h-1zM639.5 280.5h1V282.2h0.5V284.1h-0.5V285.5h-1z" fill="#e01010"/>
<path d="M640.5 272.1h1V273.7h1V284.1h-1V284.9h-1V284.1h-1V273.7h1zM641.5 257.0h1V259.9h1V273.7h-1V274.9h-1V273.7h-1V259.9h1z" fill="#000"/>
<path d="M642.5 257.6h1V259.9h0.5V266.8h-0.5V269.6h-1zM643.5 266.0h1V266.8h0.5V272.4h-0.5V273.4h-1zM644.5 270.5h1V272.4h0.5V277.0h-0.5V277.5h-1zM646.5 275.2h1V277.0h0.5V281.5h-0.5V283.0h-1z" fill="#e01010"/>
<path d="M647.5 272.6h1V276.3h1V281.5h-1V282.7h-1V281.5h-1V276.3h1zM648.5 271.8h1V273.3h1V276.3h-1V279.2h-1V276.3h-1V273.3h1zM649.5 262.9h1V266.6h1V273.3h-1V275.3h-1V273.3h-1V266.6h1zM650.5 261.5h1V262.8h1V266.6h-1V268.5h-1V266.6h-1V262.8h1z" fill="#000"/>
<path d="M652.5 261.6h1V262.7h0.5V263.9h-0.5V265.3h-1zM653.5 260.3h1V263.9h0.5V269.7h-0.5V271.2h-1zM654.5 267.6h1V269.2h0.5V270.4h-0.5V274.2h-1z" fill="#e01010"/>
<path d="M655.5 263.0h1V265.6h1V270.0h-1V271.8h-1V270.0h-1V265.6h1z" fill="#000"/>
<path d="M656.5 264.4h1V265.6h0.5V269.2h-0.5V271.7h-1z" fill="#e01010"/>
</g>
<line x1="45.8" y1="399" x2="689.6" y2="186" stroke="#ff0000" stroke-width="2.6" stroke-linecap="round"/>
<path d="M49.14 466.40h1.1V467.40h-1.1zM50.32 465.55h1.1V466.90h-1.1zM51.50 465.56h1.1V466.90h-1.1zM52.68 465.57h1.1V466.90h-1.1zM53.86 465.59h1.1V466.90h-1.1zM55.04 465.60h1.1V466.90h-1.1zM56.22 465.61h1.1V466.90h-1.1zM57.40 465.63h1.1V466.90h-1.1zM58.58 465.64h1.1V466.90h-1.1zM59.76 465.65h1.1V466.90h-1.1zM60.94 465.66h1.1V466.90h-1.1zM62.12 465.68h1.1V466.90h-1.1zM63.30 465.69h1.1V466.90h-1.1zM64.49 465.70h1.1V466.90h-1.1zM65.67 465.72h1.1V466.90h-1.1zM66.85 465.73h1.1V466.90h-1.1zM68.03 466.40h1.1V467.40h-1.1zM69.21 466.40h1.1V467.40h-1.1zM70.39 466.40h1.1V467.40h-1.1zM71.57 466.40h1.1V467.40h-1.1zM72.75 466.40h1.1V467.40h-1.1zM73.93 466.40h1.1V467.40h-1.1zM75.11 466.40h1.1V467.40h-1.1zM76.29 466.90h1.1V468.53h-1.1zM77.47 466.90h1.1V468.57h-1.1zM78.65 466.90h1.1V468.62h-1.1zM79.83 466.90h1.1V468.67h-1.1zM81.01 466.90h1.1V468.71h-1.1zM82.19 466.90h1.1V468.76h-1.1zM83.37 466.90h1.1V468.80h-1.1zM84.55 466.90h1.1V468.85h-1.1zM85.73 466.90h1.1V468.90h-1.1zM86.91 466.90h1.1V467.79h-1.1zM88.09 466.40h1.1V467.40h-1.1zM89.27 465.23h1.1V466.90h-1.1zM90.45 463.90h1.1V466.90h-1.1zM91.64 462.38h1.1V466.90h-1.1zM92.82 460.81h1.1V466.90h-1.1zM94.00 459.41h1.1V466.90h-1.1zM95.18 458.63h1.1V466.90h-1.1zM96.36 457.84h1.1V466.90h-1.1zM97.54 457.22h1.1V466.90h-1.1zM98.72 456.67h1.1V466.90h-1.1zM99.90 456.16h1.1V466.90h-1.1zM101.08 455.80h1.1V466.90h-1.1zM102.26 455.93h1.1V466.90h-1.1zM103.44 456.52h1.1V466.90h-1.1zM104.62 458.58h1.1V466.90h-1.1zM105.80 460.76h1.1V466.90h-1.1zM106.98 461.94h1.1V466.90h-1.1zM108.16 463.12h1.1V466.90h-1.1zM109.34 464.30h1.1V466.90h-1.1zM110.52 464.07h1.1V466.90h-1.1zM111.70 463.62h1.1V466.90h-1.1zM112.88 464.21h1.1V466.90h-1.1zM114.06 465.31h1.1V466.90h-1.1zM115.24 466.40h1.1V467.40h-1.1zM116.42 466.90h1.1V467.97h-1.1zM117.60 466.90h1.1V468.43h-1.1zM118.78 466.40h1.1V467.40h-1.1zM119.97 466.40h1.1V467.40h-1.1zM121.15 464.93h1.1V466.90h-1.1zM122.33 464.37h1.1V466.90h-1.1zM123.51 464.18h1.1V466.90h-1.1zM124.69 465.01h1.1V466.90h-1.1zM125.87 465.84h1.1V466.90h-1.1zM127.05 466.40h1.1V467.40h-1.1zM128.23 466.90h1.1V468.78h-1.1zM129.41 466.90h1.1V471.49h-1.1zM130.59 466.90h1.1V472.67h-1.1zM131.77 466.90h1.1V473.07h-1.1zM132.95 466.90h1.1V471.90h-1.1zM134.13 466.90h1.1V471.10h-1.1zM135.31 466.90h1.1V470.51h-1.1zM136.49 466.90h1.1V471.63h-1.1zM137.67 466.90h1.1V472.81h-1.1zM138.85 466.90h1.1V473.99h-1.1zM140.03 466.90h1.1V475.32h-1.1zM141.21 466.90h1.1V476.74h-1.1zM142.39 466.90h1.1V477.49h-1.1zM143.57 466.90h1.1V477.89h-1.1zM144.75 466.90h1.1V477.31h-1.1zM145.93 466.90h1.1V476.53h-1.1zM147.11 466.90h1.1V476.77h-1.1zM148.30 466.90h1.1V476.48h-1.1zM149.48 466.90h1.1V475.99h-1.1zM150.66 466.90h1.1V475.04h-1.1zM151.84 466.90h1.1V474.10h-1.1zM153.02 466.90h1.1V473.16h-1.1zM154.20 466.90h1.1V472.70h-1.1zM155.38 466.90h1.1V472.46h-1.1zM156.56 466.90h1.1V471.87h-1.1zM157.74 466.90h1.1V470.88h-1.1zM158.92 466.90h1.1V469.11h-1.1zM160.10 466.40h1.1V467.40h-1.1zM161.28 463.62h1.1V466.90h-1.1zM162.46 462.75h1.1V466.90h-1.1zM163.64 462.06h1.1V466.90h-1.1zM164.82 461.71h1.1V466.90h-1.1zM166.00 461.94h1.1V466.90h-1.1zM167.18 462.53h1.1V466.90h-1.1zM168.36 463.45h1.1V466.90h-1.1zM169.54 464.21h1.1V466.90h-1.1zM170.72 464.44h1.1V466.90h-1.1zM171.90 464.40h1.1V466.90h-1.1zM173.08 464.17h1.1V466.90h-1.1zM174.26 463.83h1.1V466.90h-1.1zM175.44 463.42h1.1V466.90h-1.1zM176.63 462.83h1.1V466.90h-1.1zM177.81 462.56h1.1V466.90h-1.1zM178.99 462.56h1.1V466.90h-1.1zM180.17 463.59h1.1V466.90h-1.1zM181.35 464.65h1.1V466.90h-1.1zM182.53 465.25h1.1V466.90h-1.1zM183.71 465.36h1.1V466.90h-1.1zM184.89 465.00h1.1V466.90h-1.1zM186.07 464.74h1.1V466.90h-1.1zM187.25 464.50h1.1V466.90h-1.1zM188.43 464.27h1.1V466.90h-1.1zM189.61 464.37h1.1V466.90h-1.1zM190.79 464.84h1.1V466.90h-1.1zM191.97 465.22h1.1V466.90h-1.1zM193.15 465.44h1.1V466.90h-1.1zM194.33 464.61h1.1V466.90h-1.1zM195.51 463.47h1.1V466.90h-1.1zM196.69 461.94h1.1V466.90h-1.1zM197.87 460.68h1.1V466.90h-1.1zM199.05 459.56h1.1V466.90h-1.1zM200.23 459.21h1.1V466.90h-1.1zM201.41 459.38h1.1V466.90h-1.1zM202.59 460.32h1.1V466.90h-1.1zM203.77 462.72h1.1V466.90h-1.1zM204.96 465.60h1.1V466.90h-1.1zM206.14 466.40h1.1V467.40h-1.1zM207.32 466.40h1.1V467.40h-1.1zM208.50 466.40h1.1V467.40h-1.1zM209.68 466.40h1.1V467.40h-1.1zM210.86 466.40h1.1V467.40h-1.1zM212.04 465.78h1.1V466.90h-1.1zM213.22 465.54h1.1V466.90h-1.1zM214.40 465.54h1.1V466.90h-1.1zM215.58 465.77h1.1V466.90h-1.1zM216.76 466.40h1.1V467.40h-1.1zM217.94 466.40h1.1V467.40h-1.1zM219.12 466.40h1.1V467.40h-1.1zM220.30 466.90h1.1V467.83h-1.1zM221.48 466.90h1.1V468.11h-1.1zM222.66 466.90h1.1V468.11h-1.1zM223.84 462.97h1.1V466.90h-1.1zM225.02 460.10h1.1V466.90h-1.1zM226.20 458.53h1.1V466.90h-1.1zM227.38 459.22h1.1V466.90h-1.1zM228.56 461.61h1.1V466.90h-1.1zM229.74 466.05h1.1V466.90h-1.1zM230.92 466.90h1.1V471.79h-1.1zM232.10 466.90h1.1V475.73h-1.1zM233.29 466.90h1.1V478.62h-1.1zM234.47 466.90h1.1V480.69h-1.1zM235.65 466.90h1.1V482.16h-1.1zM236.83 466.90h1.1V482.13h-1.1zM238.01 466.90h1.1V481.75h-1.1zM239.19 466.90h1.1V481.27h-1.1zM240.37 466.90h1.1V480.53h-1.1zM241.55 466.90h1.1V479.62h-1.1zM242.73 466.90h1.1V478.74h-1.1zM243.91 466.90h1.1V478.27h-1.1zM245.09 466.90h1.1V477.69h-1.1zM246.27 466.90h1.1V476.98h-1.1zM247.45 466.90h1.1V476.46h-1.1zM248.63 466.90h1.1V475.96h-1.1zM249.81 466.90h1.1V475.25h-1.1zM250.99 466.90h1.1V474.65h-1.1zM252.17 466.90h1.1V474.18h-1.1zM253.35 466.90h1.1V473.35h-1.1zM254.53 466.90h1.1V472.35h-1.1zM255.71 466.90h1.1V470.58h-1.1zM256.89 466.90h1.1V469.17h-1.1zM258.07 466.90h1.1V468.35h-1.1zM259.25 466.90h1.1V467.86h-1.1zM260.43 466.40h1.1V467.40h-1.1zM261.62 466.90h1.1V467.89h-1.1zM262.80 466.90h1.1V468.41h-1.1zM263.98 466.90h1.1V469.23h-1.1zM265.16 466.90h1.1V469.26h-1.1zM266.34 466.90h1.1V468.90h-1.1zM267.52 466.90h1.1V469.26h-1.1zM268.70 466.90h1.1V469.77h-1.1zM269.88 466.90h1.1V470.59h-1.1zM271.06 466.90h1.1V470.74h-1.1zM272.24 466.90h1.1V470.50h-1.1zM273.42 466.40h1.1V467.40h-1.1zM274.60 463.97h1.1V466.90h-1.1zM275.78 461.53h1.1V466.90h-1.1zM276.96 457.86h1.1V466.90h-1.1zM278.14 456.64h1.1V466.90h-1.1zM279.32 456.22h1.1V466.90h-1.1zM280.50 456.37h1.1V466.90h-1.1zM281.68 456.96h1.1V466.90h-1.1zM282.86 457.81h1.1V466.90h-1.1zM284.04 458.54h1.1V466.90h-1.1zM285.22 458.77h1.1V466.90h-1.1zM286.40 457.74h1.1V466.90h-1.1zM287.58 456.31h1.1V466.90h-1.1zM288.76 455.23h1.1V466.90h-1.1zM289.95 454.92h1.1V466.90h-1.1zM291.13 456.40h1.1V466.90h-1.1zM292.31 458.50h1.1V466.90h-1.1zM293.49 460.11h1.1V466.90h-1.1zM294.67 461.30h1.1V466.90h-1.1zM295.85 463.21h1.1V466.90h-1.1zM297.03 465.12h1.1V466.90h-1.1zM298.21 466.40h1.1V467.40h-1.1zM299.39 466.40h1.1V467.40h-1.1zM300.57 466.90h1.1V467.92h-1.1zM301.75 466.90h1.1V468.93h-1.1zM302.93 466.90h1.1V470.16h-1.1zM304.11 466.90h1.1V471.63h-1.1zM305.29 466.90h1.1V473.11h-1.1zM306.47 466.90h1.1V474.58h-1.1zM307.65 466.90h1.1V476.06h-1.1zM308.83 466.90h1.1V477.40h-1.1zM310.01 466.90h1.1V476.95h-1.1zM311.19 466.90h1.1V476.07h-1.1zM312.37 466.90h1.1V474.86h-1.1zM313.55 466.90h1.1V473.43h-1.1zM314.73 466.90h1.1V472.69h-1.1zM315.91 466.90h1.1V472.26h-1.1zM317.09 466.90h1.1V472.18h-1.1zM318.27 466.90h1.1V472.47h-1.1zM319.46 466.90h1.1V472.77h-1.1zM320.64 466.90h1.1V473.17h-1.1zM321.82 466.90h1.1V473.32h-1.1zM323.00 466.90h1.1V472.87h-1.1zM324.18 466.90h1.1V471.12h-1.1zM325.36 466.90h1.1V469.54h-1.1zM326.54 466.90h1.1V467.84h-1.1zM327.72 465.64h1.1V466.90h-1.1zM328.90 464.55h1.1V466.90h-1.1zM330.08 463.87h1.1V466.90h-1.1zM331.26 463.55h1.1V466.90h-1.1zM332.44 463.55h1.1V466.90h-1.1zM333.62 463.14h1.1V466.90h-1.1zM334.80 462.79h1.1V466.90h-1.1zM335.98 462.56h1.1V466.90h-1.1zM337.16 462.56h1.1V466.90h-1.1zM338.34 462.83h1.1V466.90h-1.1zM339.52 463.20h1.1V466.90h-1.1zM340.70 463.55h1.1V466.90h-1.1zM341.88 463.55h1.1V466.90h-1.1zM343.06 462.91h1.1V466.90h-1.1zM344.24 461.94h1.1V466.90h-1.1zM345.42 460.79h1.1V466.90h-1.1zM346.60 459.75h1.1V466.90h-1.1zM347.79 458.97h1.1V466.90h-1.1zM348.97 458.97h1.1V466.90h-1.1zM350.15 459.82h1.1V466.90h-1.1zM351.33 461.29h1.1V466.90h-1.1zM352.51 462.76h1.1V466.90h-1.1zM353.69 464.24h1.1V466.90h-1.1zM354.87 465.67h1.1V466.90h-1.1zM356.05 466.40h1.1V467.40h-1.1zM357.23 466.40h1.1V467.40h-1.1zM358.41 466.40h1.1V467.40h-1.1zM359.59 466.02h1.1V466.90h-1.1zM360.77 464.83h1.1V466.90h-1.1zM361.95 464.32h1.1V466.90h-1.1zM363.13 464.57h1.1V466.90h-1.1zM364.31 465.61h1.1V466.90h-1.1zM365.49 466.40h1.1V467.40h-1.1zM366.67 466.90h1.1V467.78h-1.1zM367.85 466.90h1.1V469.07h-1.1zM369.03 466.90h1.1V470.54h-1.1zM370.21 466.90h1.1V472.02h-1.1zM371.39 466.90h1.1V473.29h-1.1zM372.57 466.90h1.1V474.27h-1.1zM373.75 466.90h1.1V474.85h-1.1zM374.93 466.90h1.1V475.29h-1.1zM376.12 466.90h1.1V475.44h-1.1zM377.30 466.90h1.1V475.11h-1.1zM378.48 466.90h1.1V474.08h-1.1zM379.66 466.90h1.1V472.18h-1.1zM380.84 466.90h1.1V470.82h-1.1zM382.02 466.90h1.1V469.83h-1.1zM383.20 466.90h1.1V468.95h-1.1zM384.38 466.90h1.1V469.32h-1.1zM385.56 466.90h1.1V469.50h-1.1zM386.74 466.90h1.1V469.38h-1.1zM387.92 466.90h1.1V468.93h-1.1zM389.10 466.90h1.1V468.90h-1.1zM390.28 466.90h1.1V469.16h-1.1zM391.46 466.90h1.1V469.40h-1.1zM392.64 466.90h1.1V468.95h-1.1zM393.82 466.90h1.1V469.30h-1.1zM395.00 466.90h1.1V469.26h-1.1zM396.18 466.90h1.1V468.84h-1.1zM397.36 466.90h1.1V468.55h-1.1zM398.54 466.40h1.1V467.40h-1.1zM399.72 466.00h1.1V466.90h-1.1zM400.90 464.28h1.1V466.90h-1.1zM402.08 462.80h1.1V466.90h-1.1zM403.26 461.58h1.1V466.90h-1.1zM404.45 461.19h1.1V466.90h-1.1zM405.63 461.24h1.1V466.90h-1.1zM406.81 459.04h1.1V466.90h-1.1zM407.99 457.65h1.1V466.90h-1.1zM409.17 457.90h1.1V466.90h-1.1zM410.35 459.81h1.1V466.90h-1.1zM411.53 461.74h1.1V466.90h-1.1zM412.71 462.97h1.1V466.90h-1.1zM413.89 463.74h1.1V466.90h-1.1zM415.07 463.97h1.1V466.90h-1.1zM416.25 462.06h1.1V466.90h-1.1zM417.43 459.69h1.1V466.90h-1.1zM418.61 457.60h1.1V466.90h-1.1zM419.79 456.40h1.1V466.90h-1.1zM420.97 459.36h1.1V466.90h-1.1zM422.15 461.99h1.1V466.90h-1.1zM423.33 464.11h1.1V466.90h-1.1zM424.51 465.56h1.1V466.90h-1.1zM425.69 465.99h1.1V466.90h-1.1zM426.87 465.52h1.1V466.90h-1.1zM428.05 464.58h1.1V466.90h-1.1zM429.23 463.55h1.1V466.90h-1.1zM430.41 462.52h1.1V466.90h-1.1zM431.59 462.36h1.1V466.90h-1.1zM432.78 463.40h1.1V466.90h-1.1zM433.96 466.05h1.1V466.90h-1.1zM435.14 466.90h1.1V467.86h-1.1zM436.32 466.90h1.1V469.44h-1.1zM437.50 466.90h1.1V470.40h-1.1zM438.68 466.90h1.1V470.11h-1.1zM439.86 466.90h1.1V468.98h-1.1zM441.04 466.40h1.1V467.40h-1.1zM442.22 465.15h1.1V466.90h-1.1zM443.40 463.68h1.1V466.90h-1.1zM444.58 462.61h1.1V466.90h-1.1zM445.76 462.34h1.1V466.90h-1.1zM446.94 462.83h1.1V466.90h-1.1zM448.12 464.01h1.1V466.90h-1.1zM449.30 465.07h1.1V466.90h-1.1zM450.48 465.94h1.1V466.90h-1.1zM451.66 466.40h1.1V467.40h-1.1zM452.84 466.40h1.1V467.40h-1.1zM454.02 466.40h1.1V467.40h-1.1zM455.20 465.52h1.1V466.90h-1.1zM456.38 464.59h1.1V466.90h-1.1zM457.56 464.89h1.1V466.90h-1.1zM458.74 465.67h1.1V466.90h-1.1zM459.92 466.40h1.1V467.40h-1.1zM461.11 466.90h1.1V467.73h-1.1zM462.29 466.90h1.1V469.21h-1.1zM463.47 466.90h1.1V471.27h-1.1zM464.65 466.90h1.1V473.14h-1.1zM465.83 466.90h1.1V474.42h-1.1zM467.01 466.90h1.1V474.13h-1.1zM468.19 466.90h1.1V473.38h-1.1zM469.37 466.90h1.1V472.62h-1.1zM470.55 466.90h1.1V472.09h-1.1zM471.73 466.90h1.1V472.39h-1.1zM472.91 466.90h1.1V473.56h-1.1zM474.09 466.90h1.1V475.62h-1.1zM475.27 466.90h1.1V478.57h-1.1zM476.45 466.90h1.1V481.53h-1.1zM477.63 466.90h1.1V483.43h-1.1zM478.81 466.90h1.1V484.79h-1.1zM479.99 466.90h1.1V485.97h-1.1zM481.17 466.90h1.1V486.55h-1.1zM482.35 466.90h1.1V486.04h-1.1zM483.53 466.90h1.1V484.61h-1.1zM484.71 466.90h1.1V482.39h-1.1zM485.89 466.90h1.1V480.62h-1.1zM487.07 466.90h1.1V478.76h-1.1zM488.25 466.90h1.1V476.75h-1.1zM489.44 466.90h1.1V474.53h-1.1zM490.62 466.90h1.1V473.03h-1.1zM491.80 466.90h1.1V471.55h-1.1zM492.98 466.90h1.1V470.08h-1.1zM494.16 466.90h1.1V468.60h-1.1zM495.34 466.40h1.1V467.40h-1.1zM496.52 466.40h1.1V467.40h-1.1zM497.70 466.40h1.1V467.40h-1.1zM498.88 466.40h1.1V467.40h-1.1zM500.06 466.90h1.1V468.67h-1.1zM501.24 466.90h1.1V470.58h-1.1zM502.42 466.90h1.1V472.14h-1.1zM503.60 466.90h1.1V472.43h-1.1zM504.78 466.90h1.1V471.82h-1.1zM505.96 466.90h1.1V471.25h-1.1zM507.14 466.90h1.1V470.83h-1.1zM508.32 466.90h1.1V470.54h-1.1zM509.50 466.90h1.1V469.87h-1.1zM510.68 466.90h1.1V468.98h-1.1zM511.86 466.90h1.1V467.97h-1.1zM513.04 466.40h1.1V467.40h-1.1zM514.22 466.08h1.1V466.90h-1.1zM515.40 465.18h1.1V466.90h-1.1zM516.58 464.39h1.1V466.90h-1.1zM517.77 463.20h1.1V466.90h-1.1zM518.95 461.56h1.1V466.90h-1.1zM520.13 459.60h1.1V466.90h-1.1zM521.31 457.39h1.1V466.90h-1.1zM522.49 455.17h1.1V466.90h-1.1zM523.67 453.52h1.1V466.90h-1.1zM524.85 452.34h1.1V466.90h-1.1zM526.03 451.69h1.1V466.90h-1.1zM527.21 452.14h1.1V466.90h-1.1zM528.39 453.01h1.1V466.90h-1.1zM529.57 454.79h1.1V466.90h-1.1zM530.75 457.77h1.1V466.90h-1.1zM531.93 461.46h1.1V466.90h-1.1zM533.11 463.59h1.1V466.90h-1.1zM534.29 465.49h1.1V466.90h-1.1zM535.47 466.90h1.1V468.11h-1.1zM536.65 466.90h1.1V468.35h-1.1zM537.83 466.90h1.1V468.43h-1.1zM539.01 466.90h1.1V468.19h-1.1zM540.19 466.90h1.1V468.11h-1.1zM541.37 466.90h1.1V468.11h-1.1zM542.55 466.90h1.1V468.34h-1.1zM543.73 466.90h1.1V468.44h-1.1zM544.91 466.90h1.1V468.20h-1.1zM546.10 466.40h1.1V467.40h-1.1zM547.28 466.40h1.1V467.40h-1.1zM548.46 465.03h1.1V466.90h-1.1zM549.64 464.66h1.1V466.90h-1.1zM550.82 464.98h1.1V466.90h-1.1zM552.00 465.80h1.1V466.90h-1.1zM553.18 466.40h1.1V467.40h-1.1zM554.36 466.40h1.1V467.40h-1.1zM555.54 466.90h1.1V467.77h-1.1zM556.72 466.90h1.1V468.11h-1.1zM557.90 466.90h1.1V468.11h-1.1zM559.08 466.90h1.1V467.72h-1.1zM560.26 466.40h1.1V467.40h-1.1zM561.44 466.40h1.1V467.40h-1.1zM562.62 466.40h1.1V467.40h-1.1zM563.80 466.40h1.1V467.40h-1.1zM564.98 466.40h1.1V467.40h-1.1zM566.16 466.06h1.1V466.90h-1.1zM567.34 465.62h1.1V466.90h-1.1zM568.52 465.54h1.1V466.90h-1.1zM569.70 465.54h1.1V466.90h-1.1zM570.88 465.54h1.1V466.90h-1.1zM572.06 465.54h1.1V466.90h-1.1zM573.24 465.89h1.1V466.90h-1.1zM574.43 466.40h1.1V467.40h-1.1zM575.61 466.40h1.1V467.40h-1.1zM576.79 466.40h1.1V467.40h-1.1zM577.97 466.40h1.1V467.40h-1.1zM579.15 466.40h1.1V467.40h-1.1zM580.33 466.40h1.1V467.40h-1.1zM581.51 466.40h1.1V467.40h-1.1zM582.69 466.40h1.1V467.40h-1.1zM583.87 466.01h1.1V466.90h-1.1zM585.05 465.72h1.1V466.90h-1.1zM586.23 465.58h1.1V466.90h-1.1zM587.41 465.54h1.1V466.90h-1.1zM588.59 465.70h1.1V466.90h-1.1zM589.77 466.40h1.1V467.40h-1.1zM590.95 466.40h1.1V467.40h-1.1zM592.13 466.90h1.1V468.51h-1.1zM593.31 466.90h1.1V469.74h-1.1zM594.49 466.90h1.1V470.48h-1.1zM595.67 466.90h1.1V470.49h-1.1zM596.85 466.90h1.1V470.30h-1.1zM598.03 466.90h1.1V470.18h-1.1zM599.21 466.90h1.1V470.48h-1.1zM600.39 466.90h1.1V470.78h-1.1zM601.57 466.90h1.1V471.16h-1.1zM602.76 466.90h1.1V471.68h-1.1zM603.94 466.90h1.1V472.42h-1.1zM605.12 466.90h1.1V473.84h-1.1zM606.30 466.90h1.1V475.32h-1.1zM607.48 466.90h1.1V476.72h-1.1zM608.66 466.90h1.1V477.90h-1.1zM609.84 466.90h1.1V478.29h-1.1zM611.02 466.90h1.1V478.58h-1.1zM612.20 466.90h1.1V478.75h-1.1zM613.38 466.90h1.1V478.46h-1.1zM614.56 466.90h1.1V477.78h-1.1zM615.74 466.90h1.1V476.39h-1.1zM616.92 466.90h1.1V472.39h-1.1zM618.10 466.90h1.1V468.97h-1.1zM619.28 466.90h1.1V467.96h-1.1zM620.46 466.40h1.1V467.40h-1.1zM621.64 466.40h1.1V467.40h-1.1zM622.82 466.40h1.1V467.40h-1.1zM624.00 466.40h1.1V467.40h-1.1zM625.18 466.90h1.1V468.02h-1.1zM626.36 466.90h1.1V468.35h-1.1zM627.54 466.90h1.1V468.64h-1.1zM628.72 466.90h1.1V468.78h-1.1zM629.90 466.90h1.1V467.76h-1.1zM631.09 466.40h1.1V467.40h-1.1zM632.27 466.40h1.1V467.40h-1.1zM633.45 466.40h1.1V467.40h-1.1zM634.63 466.40h1.1V467.40h-1.1zM635.81 466.40h1.1V467.40h-1.1zM636.99 466.40h1.1V467.40h-1.1zM638.17 466.40h1.1V467.40h-1.1zM639.35 465.05h1.1V466.90h-1.1zM640.53 463.50h1.1V466.90h-1.1zM641.71 462.45h1.1V466.90h-1.1zM642.89 462.20h1.1V466.90h-1.1zM644.07 463.22h1.1V466.90h-1.1zM645.25 463.85h1.1V466.90h-1.1zM646.43 464.00h1.1V466.90h-1.1zM647.61 463.55h1.1V466.90h-1.1zM648.79 462.53h1.1V466.90h-1.1zM649.97 461.59h1.1V466.90h-1.1zM651.15 460.98h1.1V466.90h-1.1zM652.33 460.98h1.1V466.90h-1.1zM653.51 462.12h1.1V466.90h-1.1zM654.69 463.02h1.1V466.90h-1.1zM655.87 463.71h1.1V466.90h-1.1z" fill="#8a7a50"/>
<polyline fill="none" stroke="#c01040" stroke-width="1.1" stroke-linejoin="round" points="52.66,475.44 55.64,473.46 58.61,472.47 61.58,471.48 64.55,469.5 67.53,467.52 70.5,466.92 73.47,466.92 76.44,467.52 79.42,468.9 82.39,470.09 85.36,470.49 88.33,470.09 91.31,467.52 94.28,462.56 97.25,456.62 100.23,449.68 103.2,443.74 106.17,439.77 109.14,437.79 112.12,436.4 115.09,435.21 118.06,434.82 121.03,434.42 124.01,432.84 126.98,431.25 129.95,433.83 132.92,436.8 135.9,439.77 138.87,441.75 141.84,444.73 144.81,449.68 146.0,453.64 148.97,459.59 151.95,465.54 154.92,470.49 157.89,472.87 160.27,472.47 162.85,469.5 165.82,466.13 168.79,464.54 171.76,464.15 174.74,463.55 177.71,462.17 180.68,460.18 183.65,459.0 186.63,458.2 189.6,456.62 192.57,455.63 195.54,453.64 198.52,450.67 201.49,446.71 204.46,443.74 207.43,442.74 210.41,442.35 213.38,441.16 216.35,440.37 219.33,439.77 222.3,440.37 225.27,438.78 228.24,433.83 230.23,431.85 232.21,433.83 234.19,438.78 236.17,444.73 238.15,450.67 240.13,456.62 243.11,463.55 246.08,469.5 249.05,475.44 252.02,482.38 255.0,487.33 257.97,489.32 260.94,489.91 263.92,490.31 266.89,490.7 269.86,492.29 272.83,494.27 274.81,495.06 276.0,493.28 277.98,489.32 279.96,484.36 281.95,479.41 283.93,475.44 285.91,471.48 287.89,468.11 289.87,462.56 291.85,457.61 293.84,454.24 295.82,452.65 297.8,451.66 299.78,451.27 301.76,451.66 303.74,453.05 305.73,455.63 307.71,459.0 309.69,463.55 311.67,467.52 313.65,470.49 315.64,473.46 317.62,476.04 319.6,478.42 321.58,480.79 323.56,482.78 325.54,483.37 327.53,481.98 329.51,480.0 331.49,478.02 333.47,476.04 335.45,474.06 337.43,472.47 339.42,470.89 341.4,469.5 343.38,468.11 345.36,466.13 347.34,463.55 349.33,460.98 351.31,458.6 353.29,456.62 355.27,455.63 357.25,455.23 359.23,455.03 361.22,454.24 363.2,453.05 365.18,452.65 367.16,452.65 369.14,453.64 371.12,455.63 373.11,459.0 375.09,462.96 377.07,466.53 379.05,468.9 381.03,470.49 383.02,471.48 385.0,472.07 386.98,472.47 388.96,472.87 390.94,473.46 392.92,474.06 394.91,474.45 396.89,475.05 398.87,475.44 400.85,475.05 402.83,473.46 404.81,470.89 406.0,470.49 407.98,466.92 409.96,462.56 411.95,459.0 413.93,457.01 415.91,455.63 417.89,452.65 419.87,449.09 421.85,447.1 423.84,445.72 425.82,444.73 427.8,444.13 429.78,443.14 431.76,441.75 433.74,440.37 435.73,440.37 437.71,441.36 439.69,442.35 441.67,442.74 443.65,441.75 445.64,440.37 447.62,438.78 449.6,437.39 451.58,436.8 453.56,436.8 455.54,436.4 457.53,435.81 459.51,434.82 461.49,434.42 463.47,434.82 465.45,436.8 467.43,439.77 469.42,442.74 471.4,445.72 473.38,448.29 475.36,452.65 477.34,459.59 479.33,467.52 481.31,475.44 483.29,482.38 485.27,487.33 487.25,491.3 489.23,494.27 491.22,496.65 493.2,498.23 495.18,499.23 497.16,499.23 499.14,498.63 501.12,499.23 503.11,501.21 505.09,503.19 507.07,504.58 509.05,505.76 511.03,506.56 513.02,506.16 515.0,505.17 516.98,503.19 518.96,500.61 520.94,497.84 522.92,493.87 524.91,488.72 526.89,483.37 528.87,478.02 530.85,474.06 532.83,471.48 534.81,470.49 536.0,470.49 538.97,470.09 541.95,469.5 544.92,469.5 547.89,468.9 550.86,466.92 553.84,466.53 556.81,467.52 559.78,468.51 562.75,468.51 565.73,468.11 568.7,466.92 571.67,465.54 574.64,464.94 577.62,464.54 580.59,464.15 583.56,463.55 586.54,462.56 589.51,461.77 592.48,462.17 595.45,464.15 598.43,466.53 601.4,468.9 604.37,472.07 607.34,476.83 610.32,483.37 613.29,489.91 615.27,493.28 617.25,495.26 619.23,494.27 621.22,493.28 624.19,493.28 627.16,493.48 630.13,493.87 633.11,492.69 636.08,491.89 639.05,491.89 642.02,489.32 645.0,486.34 647.97,484.36 650.94,481.39 653.92,478.42 657.28,476.04"/>
<polyline fill="none" stroke="#000" stroke-width="2" stroke-linejoin="round" points="40.77,472.07 42.75,473.46 44.74,475.44 46.72,476.83 48.7,478.42 50.68,476.43 52.66,474.45 54.64,472.87 56.63,471.48 58.61,470.49 60.59,470.09 62.57,468.9 64.55,468.11 66.54,466.92 68.52,466.13 70.5,465.54 72.48,466.13 74.46,467.52 76.44,468.51 78.43,469.5 80.41,470.49 82.39,471.08 84.37,471.08 86.35,470.89 88.33,469.5 90.32,466.92 92.3,462.56 94.28,456.62 96.26,450.67 98.24,445.72 100.23,440.76 102.21,436.4 104.19,433.83 106.17,434.82 108.15,435.81 110.13,434.82 112.12,433.23 113.5,432.44 115.09,434.42 117.07,435.41 119.05,435.81 121.03,433.83 123.02,430.85 125.0,430.46 126.98,430.85 128.96,433.83 130.94,436.8 132.92,439.77 134.91,440.76 136.89,442.74 138.87,445.72 140.85,451.66 142.83,456.62 144.81,461.57 146.0,462.56 147.98,465.54 149.96,469.5 151.95,473.46 153.93,475.44 155.91,478.02 157.89,478.02 159.48,475.44 161.06,469.5 163.04,465.54 165.02,462.96 167.01,462.17 168.99,463.55 170.97,463.55 172.95,463.16 174.93,462.17 176.92,460.58 178.9,458.2 180.09,456.62 181.67,457.61 183.26,459.0 184.84,458.2 186.43,457.01 188.01,455.63 189.6,454.64 191.58,454.64 193.56,454.24 195.54,450.67 197.53,446.71 199.51,441.75 201.49,438.38 203.07,437.2 204.66,439.77 206.25,442.35 207.83,442.74 209.42,441.75 211.4,440.76 213.38,439.77 215.36,439.18 217.34,439.18 219.33,438.78 221.31,439.77 223.29,440.76 224.48,437.79 225.67,432.84 227.25,429.86 228.24,428.87 229.63,430.85 230.82,434.82 232.01,440.76 233.2,447.7 234.78,454.64 236.37,460.58 237.95,466.13 239.54,470.49 241.12,473.46 243.11,476.83 245.09,480.0 247.07,483.37 249.05,487.33 251.03,490.7 253.02,493.87 254.6,493.87 256.19,491.89 258.17,489.91 260.15,488.72 262.13,489.91 264.11,490.31 266.1,491.89 268.08,493.87 270.06,496.25 272.04,498.23 273.63,497.24 274.81,492.29 276.0,486.34 277.59,478.42 279.17,474.45 280.76,471.48 282.34,469.5 283.93,468.11 285.51,465.54 287.1,461.57 288.68,456.62 290.27,451.66 291.85,447.7 293.84,447.7 295.42,446.71 297.01,449.09 298.59,450.67 300.18,451.07 301.76,452.65 303.35,455.63 304.93,459.59 306.52,464.54 308.1,469.5 309.69,473.46 311.28,475.44 312.86,476.83 314.45,478.02 316.03,478.02 317.62,478.81 319.2,481.39 320.79,483.97 322.77,485.95 324.36,484.76 325.94,481.98 327.53,478.81 329.11,476.04 330.7,474.06 332.28,472.87 333.87,471.48 335.45,469.5 337.43,468.11 339.42,466.92 341.4,466.13 343.38,464.54 344.97,461.57 346.55,458.2 348.14,454.64 349.72,452.65 351.31,451.66 353.29,453.05 355.27,454.24 357.25,455.03 359.23,454.24 361.22,452.26 363.2,451.07 365.18,451.66 367.16,453.05 369.14,455.63 370.73,458.6 372.31,461.57 373.9,466.13 375.48,469.5 377.07,472.07 379.05,473.46 381.03,472.87 383.02,472.07 385.0,472.87 386.98,473.46 388.96,474.06 390.94,474.85 392.92,475.44 394.91,475.44 396.89,476.43 398.47,476.83 400.06,475.44 401.64,473.46 403.23,470.09 404.81,466.92 406.0,464.54 407.59,459.59 409.17,455.63 410.76,453.64 412.34,453.64 413.93,455.63 415.51,453.64 417.1,448.69 418.68,443.74 420.27,439.77 421.85,440.76 423.44,442.74 425.02,443.14 426.61,443.14 428.2,442.35 429.78,440.37 431.37,438.38 432.95,437.79 434.54,439.77 436.12,442.74 437.71,444.73 439.29,445.12 440.88,444.33 442.46,441.75 444.05,438.78 445.64,436.4 447.22,434.82 448.81,434.42 450.39,435.81 451.98,437.2 453.56,437.2 455.15,435.81 456.73,433.83 458.32,432.84 459.9,433.23 461.49,434.82 463.07,436.4 464.66,439.77 466.25,442.74 467.83,445.12 469.42,446.71 471.0,448.29 472.59,450.28 474.17,454.64 475.76,462.56 477.34,472.47 478.93,481.39 480.51,488.33 482.1,493.28 483.69,496.25 485.27,498.23 486.86,499.82 488.44,501.21 490.03,502.59 491.61,503.19 493.2,502.2 494.78,500.61 496.37,498.63 497.95,497.24 499.14,496.65 500.73,499.23 502.31,502.2 503.9,504.58 505.48,506.16 507.07,507.15 509.05,507.15 511.03,507.15 512.62,506.16 514.2,503.78 515.79,501.8 517.38,499.82 518.96,497.24 520.55,493.28 522.13,487.33 523.72,480.4 525.3,473.46 526.89,467.52 528.47,464.15 530.06,462.56 531.64,463.55 533.23,467.52 534.81,468.9 536.0,468.9 537.98,469.5 539.96,468.9 541.95,468.51 543.93,469.5 545.91,470.09 547.49,468.51 549.08,466.13 550.67,464.94 552.25,465.54 553.84,466.53 555.42,467.52 557.01,468.51 558.59,469.1 560.18,468.9 561.76,468.51 563.35,468.11 564.93,468.11 566.52,466.92 568.1,465.54 569.69,464.54 571.28,463.75 572.86,463.55 574.45,464.15 576.03,464.15 577.62,463.55 579.2,462.96 580.79,463.55 582.37,463.16 583.96,462.56 585.54,461.97 587.13,461.57 588.72,460.98 590.3,460.58 591.89,462.17 593.47,464.54 595.06,466.13 596.64,466.92 598.23,468.11 599.81,469.5 601.4,470.89 602.98,472.47 604.57,474.45 606.15,477.43 607.74,481.39 609.33,486.34 610.91,491.3 612.5,495.26 614.08,498.23 615.67,499.82 616.86,497.24 618.44,494.27 620.03,492.69 621.61,492.69 623.2,493.28 624.78,492.69 626.37,493.28 627.95,493.87 629.54,494.27 631.12,492.69 632.71,491.3 634.3,490.7 635.88,491.3 637.47,491.89 639.05,491.3 640.64,488.72 642.22,486.34 643.81,484.36 645.39,483.37 646.98,481.98 648.56,479.41 650.15,476.83 651.74,474.85 653.32,474.06 654.91,473.66 656.89,472.87"/>
<rect x="16.5" y="28.5" width="646.0" height="375.0" fill="none" stroke="#626282" stroke-width="1"/>
<path d="M16.5 125.5H662.5" stroke="#626282" stroke-width="1" />
<rect x="16.5" y="417.5" width="646.0" height="97.0" fill="none" stroke="#626282" stroke-width="1"/>
<text x="666.0" y="46.1" font-size="9.5" textLength="11.3" lengthAdjust="spacingAndGlyphs" fill="#000">90</text>
<text x="666.0" y="62.9" font-size="9.5" textLength="11.3" lengthAdjust="spacingAndGlyphs" fill="#000">70</text>
<text x="666.0" y="79.7" font-size="9.5" textLength="11.3" lengthAdjust="spacingAndGlyphs" fill="#000">50</text>
<text x="666.0" y="96.5" font-size="9.5" textLength="11.3" lengthAdjust="spacingAndGlyphs" fill="#000">30</text>
<text x="666.0" y="113.3" font-size="9.5" textLength="11.3" lengthAdjust="spacingAndGlyphs" fill="#000">10</text>
<text x="672.1" y="377.6" font-size="9.5" textLength="11.3" lengthAdjust="spacingAndGlyphs" fill="#000">40</text>
<text x="672.1" y="353.8" font-size="9.5" textLength="11.3" lengthAdjust="spacingAndGlyphs" fill="#000">45</text>
<text x="672.1" y="332.5" font-size="9.5" textLength="11.3" lengthAdjust="spacingAndGlyphs" fill="#000">50</text>
<text x="672.1" y="313.2" font-size="9.5" textLength="11.3" lengthAdjust="spacingAndGlyphs" fill="#000">55</text>
<text x="672.1" y="295.5" font-size="9.5" textLength="11.3" lengthAdjust="spacingAndGlyphs" fill="#000">60</text>
<text x="672.1" y="279.3" font-size="9.5" textLength="11.3" lengthAdjust="spacingAndGlyphs" fill="#000">65</text>
<text x="672.1" y="264.3" font-size="9.5" textLength="11.3" lengthAdjust="spacingAndGlyphs" fill="#000">70</text>
<text x="672.1" y="250.4" font-size="9.5" textLength="11.3" lengthAdjust="spacingAndGlyphs" fill="#000">75</text>
<text x="672.1" y="237.3" font-size="9.5" textLength="11.3" lengthAdjust="spacingAndGlyphs" fill="#000">80</text>
<text x="672.1" y="225.0" font-size="9.5" textLength="11.3" lengthAdjust="spacingAndGlyphs" fill="#000">85</text>
<text x="672.1" y="213.4" font-size="9.5" textLength="11.3" lengthAdjust="spacingAndGlyphs" fill="#000">90</text>
<text x="672.1" y="202.5" font-size="9.5" textLength="11.3" lengthAdjust="spacingAndGlyphs" fill="#000">95</text>
<text x="666.4" y="192.1" font-size="9.5" textLength="17.0" lengthAdjust="spacingAndGlyphs" fill="#000">100</text>
<text x="666.4" y="182.2" font-size="9.5" textLength="17.0" lengthAdjust="spacingAndGlyphs" fill="#000">105</text>
<text x="666.4" y="172.8" font-size="9.5" textLength="17.0" lengthAdjust="spacingAndGlyphs" fill="#000">110</text>
<text x="666.4" y="163.8" font-size="9.5" textLength="17.0" lengthAdjust="spacingAndGlyphs" fill="#000">115</text>
<text x="666.4" y="155.2" font-size="9.5" textLength="17.0" lengthAdjust="spacingAndGlyphs" fill="#000">120</text>
<text x="666.4" y="146.9" font-size="9.5" textLength="17.0" lengthAdjust="spacingAndGlyphs" fill="#000">125</text>
<text x="666.4" y="139.0" font-size="9.5" textLength="17.0" lengthAdjust="spacingAndGlyphs" fill="#000">130</text>
<text x="666.4" y="131.3" font-size="9.5" textLength="17.0" lengthAdjust="spacingAndGlyphs" fill="#000">135</text>
<text x="665.1" y="511.8" font-size="9.5" textLength="17.6" lengthAdjust="spacingAndGlyphs" fill="#000">-7.5</text>
<text x="665.1" y="497.7" font-size="9.5" textLength="17.6" lengthAdjust="spacingAndGlyphs" fill="#000">-5.0</text>
<text x="665.1" y="483.5" font-size="9.5" textLength="17.6" lengthAdjust="spacingAndGlyphs" fill="#000">-2.5</text>
<text x="668.5" y="469.4" font-size="9.5" textLength="14.2" lengthAdjust="spacingAndGlyphs" fill="#000">0.0</text>
<text x="668.5" y="455.2" font-size="9.5" textLength="14.2" lengthAdjust="spacingAndGlyphs" fill="#000">2.5</text>
<text x="668.5" y="441.1" font-size="9.5" textLength="14.2" lengthAdjust="spacingAndGlyphs" fill="#000">5.0</text>
<text x="668.5" y="426.9" font-size="9.5" textLength="14.2" lengthAdjust="spacingAndGlyphs" fill="#000">7.5</text>
<path d="M662.5 43.5h2.5M662.5 60.5h2.5M662.5 77.5h2.5M662.5 94.5h2.5M662.5 111.5h2.5M662.5 375.5h2.5M662.5 351.5h2.5M662.5 330.5h2.5M662.5 310.5h2.5M662.5 293.5h2.5M662.5 277.5h2.5M662.5 262.5h2.5M662.5 248.5h2.5M662.5 235.5h2.5M662.5 222.5h2.5M662.5 211.5h2.5M662.5 200.5h2.5M662.5 189.5h2.5M662.5 180.5h2.5M662.5 170.5h2.5M662.5 161.5h2.5M662.5 152.5h2.5M662.5 144.5h2.5M662.5 136.5h2.5M662.5 129.5h2.5M662.5 396.5h1.5M662.5 391.5h1.5M662.5 385.5h1.5M662.5 380.5h1.5M662.5 375.5h1.5M662.5 370.5h1.5M662.5 365.5h1.5M662.5 360.5h1.5M662.5 356.5h1.5M662.5 351.5h1.5M662.5 347.5h1.5M662.5 342.5h1.5M662.5 338.5h1.5M662.5 334.5h1.5M662.5 330.5h1.5M662.5 326.5h1.5M662.5 322.5h1.5M662.5 318.5h1.5M662.5 314.5h1.5M662.5 310.5h1.5M662.5 307.5h1.5M662.5 303.5h1.5M662.5 300.5h1.5M662.5 296.5h1.5M662.5 293.5h1.5M662.5 289.5h1.5M662.5 286.5h1.5M662.5 283.5h1.5M662.5 280.5h1.5M662.5 277.5h1.5M662.5 274.5h1.5M662.5 270.5h1.5M662.5 267.5h1.5M662.5 265.5h1.5M662.5 262.5h1.5M662.5 259.5h1.5M662.5 256.5h1.5M662.5 253.5h1.5M662.5 250.5h1.5M662.5 248.5h1.5M662.5 245.5h1.5M662.5 242.5h1.5M662.5 240.5h1.5M662.5 237.5h1.5M662.5 235.5h1.5M662.5 232.5h1.5M662.5 230.5h1.5M662.5 227.5h1.5M662.5 225.5h1.5M662.5 222.5h1.5M662.5 220.5h1.5M662.5 218.5h1.5M662.5 215.5h1.5M662.5 213.5h1.5M662.5 211.5h1.5M662.5 208.5h1.5M662.5 206.5h1.5M662.5 204.5h1.5M662.5 202.5h1.5M662.5 200.5h1.5M662.5 198.5h1.5M662.5 196.5h1.5M662.5 193.5h1.5M662.5 191.5h1.5M662.5 189.5h1.5M662.5 187.5h1.5M662.5 185.5h1.5M662.5 183.5h1.5M662.5 181.5h1.5M662.5 180.5h1.5M662.5 178.5h1.5M662.5 176.5h1.5M662.5 174.5h1.5M662.5 172.5h1.5M662.5 170.5h1.5M662.5 168.5h1.5M662.5 166.5h1.5M662.5 165.5h1.5M662.5 163.5h1.5M662.5 161.5h1.5M662.5 159.5h1.5M662.5 158.5h1.5M662.5 156.5h1.5M662.5 154.5h1.5M662.5 152.5h1.5M662.5 151.5h1.5M662.5 149.5h1.5M662.5 147.5h1.5M662.5 146.5h1.5M662.5 144.5h1.5M662.5 143.5h1.5M662.5 141.5h1.5M662.5 139.5h1.5M662.5 138.5h1.5M662.5 136.5h1.5M662.5 135.5h1.5M662.5 133.5h1.5M662.5 132.5h1.5M662.5 130.5h1.5M662.5 129.5h1.5M662.5 127.5h1.5M662.5 126.5h1.5M662.5 509.5h2.5M662.5 495.5h2.5M662.5 481.5h2.5M662.5 467.5h2.5M662.5 453.5h2.5M662.5 438.5h2.5M662.5 424.5h2.5" stroke="#626282" stroke-width="1"/>
<text x="30.7" y="413.6" font-size="9.5" textLength="11.8" lengthAdjust="spacingAndGlyphs">82</text>
<text x="30.7" y="524.5" font-size="9.5" textLength="11.8" lengthAdjust="spacingAndGlyphs">82</text>
<text x="59.7" y="413.6" font-size="9.5" textLength="11.8" lengthAdjust="spacingAndGlyphs">84</text>
<text x="59.7" y="524.5" font-size="9.5" textLength="11.8" lengthAdjust="spacingAndGlyphs">84</text>
<text x="87.7" y="413.6" font-size="9.5" textLength="11.8" lengthAdjust="spacingAndGlyphs">86</text>
<text x="87.7" y="524.5" font-size="9.5" textLength="11.8" lengthAdjust="spacingAndGlyphs">86</text>
<text x="115.7" y="413.6" font-size="9.5" textLength="11.8" lengthAdjust="spacingAndGlyphs">88</text>
<text x="115.7" y="524.5" font-size="9.5" textLength="11.8" lengthAdjust="spacingAndGlyphs">88</text>
<text x="144.7" y="413.6" font-size="9.5" textLength="11.8" lengthAdjust="spacingAndGlyphs">90</text>
<text x="144.7" y="524.5" font-size="9.5" textLength="11.8" lengthAdjust="spacingAndGlyphs">90</text>
<text x="172.7" y="413.6" font-size="9.5" textLength="11.8" lengthAdjust="spacingAndGlyphs">92</text>
<text x="172.7" y="524.5" font-size="9.5" textLength="11.8" lengthAdjust="spacingAndGlyphs">92</text>
<text x="200.7" y="413.6" font-size="9.5" textLength="11.8" lengthAdjust="spacingAndGlyphs">94</text>
<text x="200.7" y="524.5" font-size="9.5" textLength="11.8" lengthAdjust="spacingAndGlyphs">94</text>
<text x="229.7" y="413.6" font-size="9.5" textLength="11.8" lengthAdjust="spacingAndGlyphs">96</text>
<text x="229.7" y="524.5" font-size="9.5" textLength="11.8" lengthAdjust="spacingAndGlyphs">96</text>
<text x="257.7" y="413.6" font-size="9.5" textLength="11.8" lengthAdjust="spacingAndGlyphs">98</text>
<text x="257.7" y="524.5" font-size="9.5" textLength="11.8" lengthAdjust="spacingAndGlyphs">98</text>
<text x="285.7" y="413.6" font-size="9.5" textLength="11.8" lengthAdjust="spacingAndGlyphs">00</text>
<text x="285.7" y="524.5" font-size="9.5" textLength="11.8" lengthAdjust="spacingAndGlyphs">00</text>
<text x="314.7" y="413.6" font-size="9.5" textLength="11.8" lengthAdjust="spacingAndGlyphs">02</text>
<text x="314.7" y="524.5" font-size="9.5" textLength="11.8" lengthAdjust="spacingAndGlyphs">02</text>
<text x="342.7" y="413.6" font-size="9.5" textLength="11.8" lengthAdjust="spacingAndGlyphs">04</text>
<text x="342.7" y="524.5" font-size="9.5" textLength="11.8" lengthAdjust="spacingAndGlyphs">04</text>
<text x="370.7" y="413.6" font-size="9.5" textLength="11.8" lengthAdjust="spacingAndGlyphs">06</text>
<text x="370.7" y="524.5" font-size="9.5" textLength="11.8" lengthAdjust="spacingAndGlyphs">06</text>
<text x="399.7" y="413.6" font-size="9.5" textLength="11.8" lengthAdjust="spacingAndGlyphs">08</text>
<text x="399.7" y="524.5" font-size="9.5" textLength="11.8" lengthAdjust="spacingAndGlyphs">08</text>
<text x="427.7" y="413.6" font-size="9.5" textLength="11.8" lengthAdjust="spacingAndGlyphs">10</text>
<text x="427.7" y="524.5" font-size="9.5" textLength="11.8" lengthAdjust="spacingAndGlyphs">10</text>
<text x="455.7" y="413.6" font-size="9.5" textLength="11.8" lengthAdjust="spacingAndGlyphs">12</text>
<text x="455.7" y="524.5" font-size="9.5" textLength="11.8" lengthAdjust="spacingAndGlyphs">12</text>
<text x="484.7" y="413.6" font-size="9.5" textLength="11.8" lengthAdjust="spacingAndGlyphs">14</text>
<text x="484.7" y="524.5" font-size="9.5" textLength="11.8" lengthAdjust="spacingAndGlyphs">14</text>
<text x="512.7" y="413.6" font-size="9.5" textLength="11.8" lengthAdjust="spacingAndGlyphs">16</text>
<text x="512.7" y="524.5" font-size="9.5" textLength="11.8" lengthAdjust="spacingAndGlyphs">16</text>
<text x="540.7" y="413.6" font-size="9.5" textLength="11.8" lengthAdjust="spacingAndGlyphs">18</text>
<text x="540.7" y="524.5" font-size="9.5" textLength="11.8" lengthAdjust="spacingAndGlyphs">18</text>
<text x="569.7" y="413.6" font-size="9.5" textLength="11.8" lengthAdjust="spacingAndGlyphs">20</text>
<text x="569.7" y="524.5" font-size="9.5" textLength="11.8" lengthAdjust="spacingAndGlyphs">20</text>
<text x="597.7" y="413.6" font-size="9.5" textLength="11.8" lengthAdjust="spacingAndGlyphs">22</text>
<text x="597.7" y="524.5" font-size="9.5" textLength="11.8" lengthAdjust="spacingAndGlyphs">22</text>
<text x="625.7" y="413.6" font-size="9.5" textLength="11.8" lengthAdjust="spacingAndGlyphs">24</text>
<text x="625.7" y="524.5" font-size="9.5" textLength="11.8" lengthAdjust="spacingAndGlyphs">24</text>
<path d="M37.5 403.5v3M37.5 417.5v-3M37.5 514.5v3M66.5 403.5v3M66.5 417.5v-3M66.5 514.5v3M94.5 403.5v3M94.5 417.5v-3M94.5 514.5v3M122.5 403.5v3M122.5 417.5v-3M122.5 514.5v3M151.5 403.5v3M151.5 417.5v-3M151.5 514.5v3M179.5 403.5v3M179.5 417.5v-3M179.5 514.5v3M207.5 403.5v3M207.5 417.5v-3M207.5 514.5v3M236.5 403.5v3M236.5 417.5v-3M236.5 514.5v3M264.5 403.5v3M264.5 417.5v-3M264.5 514.5v3M292.5 403.5v3M292.5 417.5v-3M292.5 514.5v3M321.5 403.5v3M321.5 417.5v-3M321.5 514.5v3M349.5 403.5v3M349.5 417.5v-3M349.5 514.5v3M377.5 403.5v3M377.5 417.5v-3M377.5 514.5v3M406.5 403.5v3M406.5 417.5v-3M406.5 514.5v3M434.5 403.5v3M434.5 417.5v-3M434.5 514.5v3M462.5 403.5v3M462.5 417.5v-3M462.5 514.5v3M491.5 403.5v3M491.5 417.5v-3M491.5 514.5v3M519.5 403.5v3M519.5 417.5v-3M519.5 514.5v3M547.5 403.5v3M547.5 417.5v-3M547.5 514.5v3M576.5 403.5v3M576.5 417.5v-3M576.5 514.5v3M604.5 403.5v3M604.5 417.5v-3M604.5 514.5v3M632.5 403.5v3M632.5 417.5v-3M632.5 514.5v3" stroke="#626282" stroke-width="1"/>
<text x="16.2" y="13.7" font-size="14" textLength="33.9" lengthAdjust="spacingAndGlyphs" font-weight="bold">$XDN</text>
<text x="53.9" y="13.7" font-size="11" textLength="135" lengthAdjust="spacingAndGlyphs" >Japanese Yen - Philadelphia</text>
<text x="195" y="13.7" font-size="9.5" textLength="22.7" lengthAdjust="spacingAndGlyphs" >INDX</text>
<text x="16.5" y="25.7" font-size="10.5" textLength="57.5" lengthAdjust="spacingAndGlyphs" >14-Oct-2025</text>
<circle cx="577.6" cy="9" r="3.9" fill="none" stroke="#3a3a3a" stroke-width="1.1"/>
<text x="577.6" y="11.4" font-size="6.5" font-weight="bold" text-anchor="middle" fill="#3a3a3a">c</text>
<text x="582.3" y="12.9" font-size="11" textLength="79.7" lengthAdjust="spacingAndGlyphs" fill="#3a3a3a" stroke="#3a3a3a" stroke-width="0.25">StockCharts.com</text>
<text x="308" y="25.7" font-size="11" textLength="28" lengthAdjust="spacingAndGlyphs" font-weight="bold">Open</text>
<text x="340" y="25.7" font-size="10.5" textLength="26.3" lengthAdjust="spacingAndGlyphs" >68.03</text>
<text x="372.9" y="25.7" font-size="11" textLength="23.1" lengthAdjust="spacingAndGlyphs" font-weight="bold">High</text>
<text x="399.4" y="25.7" font-size="10.5" textLength="26.3" lengthAdjust="spacingAndGlyphs" >68.22</text>
<text x="432.3" y="25.7" font-size="11" textLength="23.4" lengthAdjust="spacingAndGlyphs" font-weight="bold">Low</text>
<text x="459.4" y="25.7" font-size="10.5" textLength="26.3" lengthAdjust="spacingAndGlyphs" >65.26</text>
<text x="492.9" y="25.7" font-size="11" textLength="30.5" lengthAdjust="spacingAndGlyphs" font-weight="bold">Close</text>
<text x="528" y="25.7" font-size="10.5" textLength="25.7" lengthAdjust="spacingAndGlyphs" >65.89</text>
<text x="560.9" y="25.7" font-size="11" textLength="20.5" lengthAdjust="spacingAndGlyphs" font-weight="bold">Chg</text>
<text x="586.3" y="25.7" font-size="10.5" textLength="66.0" lengthAdjust="spacingAndGlyphs" >-1.71 (-2.53%)</text>
<path d="M654.9 20.2h7.2l-3.6 4.3z" fill="#900030"/>
<path d="M19.6 38.6L23.3 31L25.3 34.6L27.4 32.4V38.6z" fill="#d9c8ae"/><path d="M19.6 38.6L23.3 31L25.3 34.6L27.4 32.4V38.6" fill="none" stroke="#302820" stroke-width="1"/>
<text x="31.3" y="38.6" font-size="9" textLength="79" lengthAdjust="spacing" font-family="'DejaVu Sans',Verdana,sans-serif" stroke="#000" stroke-width="0.2">RSI(14) 44.17</text>
<path d="M20.5 128v8M23.5 127.5v9M26.5 128v8" stroke="#000" stroke-width="1"/><rect x="19.5" y="129.5" width="2.2" height="4.5"/><rect x="22.6" y="129" width="1.9" height="5" fill="#fff" stroke="#000" stroke-width="0.6"/><rect x="25.5" y="129.5" width="2.2" height="4.5"/>
<text x="31.4" y="135.7" font-size="9" textLength="121" lengthAdjust="spacing" font-family="'DejaVu Sans',Verdana,sans-serif" stroke="#000" stroke-width="0.2">$XDN (Monthly) 65.89</text>
<path d="M19.8 146v-4M22 146v-6.5M24.2 146v-6M26.4 146v-4.5" stroke="#000" stroke-width="1.5"/>
<text x="30" y="145.6" font-size="9" textLength="62.3" lengthAdjust="spacing" font-family="'DejaVu Sans',Verdana,sans-serif" stroke="#000" stroke-width="0.2">Volume undef</text>
<path d="M19 424h9" stroke="#000" stroke-width="2"/>
<text x="31.5" y="427.3" font-size="9" textLength="210" lengthAdjust="spacing" font-family="'DejaVu Sans',Verdana,sans-serif" stroke="#000" stroke-width="0.2">MACD(12,26,9) -1.098<tspan fill="#c01040" stroke="#c01040">, -1.602</tspan><tspan fill="#b09868" stroke="#b09868">, 0.504</tspan></text>
<text x="32.4" y="113.9" font-size="26" font-weight="bold" fill="#ff0000" textLength="47.4" lengthAdjust="spacingAndGlyphs">Yen</text>
<text x="86.0" y="113.9" font-size="26" font-weight="bold" fill="#ff0000" textLength="30.0" lengthAdjust="spacingAndGlyphs">vs</text>
<text x="123.2" y="113.9" font-size="26" font-weight="bold" fill="#ff0000" textLength="49.1" lengthAdjust="spacingAndGlyphs">US$</text>
<text x="187.3" y="113.9" font-size="26" font-weight="bold" fill="#ff0000" textLength="13.1" lengthAdjust="spacingAndGlyphs">1</text>
<text x="208.9" y="113.9" font-size="26" font-weight="bold" fill="#ff0000" textLength="42.9" lengthAdjust="spacingAndGlyphs">yen</text>
<text x="260.0" y="113.9" font-size="26" font-weight="bold" fill="#ff0000" textLength="15.0" lengthAdjust="spacingAndGlyphs">=</text>
<text x="282.0" y="113.9" font-size="26" font-weight="bold" fill="#ff0000" textLength="140.4" lengthAdjust="spacingAndGlyphs">US$0.06799</text>
<rect x="253.0" y="138.0" width="133.0" height="25.0" fill="#9a9a9a" opacity="0.75"/>
<rect x="250.5" y="135.5" width="133.0" height="25.0" fill="#fff" stroke="#808080" stroke-width="1"/>
<text x="253.8" y="154.2" font-size="17" font-weight="bold" fill="#ff0000" textLength="118.3" lengthAdjust="spacingAndGlyphs">Currently 147.2</text>
<rect x="422.0" y="307.0" width="143.0" height="24.0" fill="#9a9a9a" opacity="0.75"/>
<rect x="419.5" y="304.5" width="143.0" height="24.0" fill="#fff" stroke="#808080" stroke-width="1"/>
<text x="422.6" y="320.6" font-size="15" font-weight="bold" fill="#ff0000" textLength="115.5" lengthAdjust="spacingAndGlyphs">No support at all</text>
<rect x="211.0" y="355.0" width="173.0" height="31.0" fill="#9a9a9a" opacity="0.75"/>
<rect x="208.5" y="352.5" width="173.0" height="31.0" fill="#fff" stroke="#808080" stroke-width="1"/>
<text x="211.6" y="375" font-size="20.5" font-weight="bold" fill="#ff0000" textLength="157.5" lengthAdjust="spacingAndGlyphs">50 year uptrend</text>
<rect x="562.0" y="350.0" width="61.0" height="24.0" fill="#9a9a9a" opacity="0.75"/>
<rect x="559.5" y="347.5" width="61.0" height="24.0" fill="#fff" stroke="#808080" stroke-width="1"/>
<text x="562.1" y="364.2" font-size="15" font-weight="bold" fill="#ff0000" textLength="50.4" lengthAdjust="spacingAndGlyphs">Broken</text>
<line x1="331.6" y1="343.4" x2="362.9" y2="304.6" stroke="#ff0000" stroke-width="3"/>
<polygon points="369.4,296.6 366.3,309.9 357.0,302.4" fill="#ff0000"/>
<line x1="610.4" y1="347" x2="639.4" y2="303.3" stroke="#ff0000" stroke-width="3"/>
<polygon points="645.1,294.7 643.3,308.3 633.3,301.6" fill="#ff0000"/>
<line x1="650.9" y1="146" x2="661.7" y2="241.4" stroke="#ff0000" stroke-width="3.4"/>
<polygon points="663.0,253.3 654.5,240.2 668.4,238.6" fill="#ff0000"/>
<ellipse cx="641.7" cy="82.8" rx="41.5" ry="39.5" fill="none" stroke="#ff0000" stroke-width="1.3"/>
<ellipse cx="648" cy="482" rx="35.5" ry="43.6" fill="none" stroke="#ff0000" stroke-width="1.3"/>
<path d="M660 81.5L664.5 76.3H692.7V86.7H664.5z" fill="#fff" stroke="#000" stroke-width="1"/>
<text x="665" y="85.3" font-size="10.5" textLength="26" lengthAdjust="spacingAndGlyphs" fill="#000">44.17</text>
<path d="M660 274L664.5 268.5H693V279.5H664.5z" fill="#fff" stroke="#000" stroke-width="1"/>
<text x="665" y="277.8" font-size="10.5" font-weight="bold" textLength="27" lengthAdjust="spacingAndGlyphs" fill="#000">65.89</text>
<path d="M660 476.2L664.5 471.0H694.4V481.4H664.5z" fill="#fff" stroke="#900030" stroke-width="1"/>
<text x="665" y="480.0" font-size="10.5" textLength="28.5" lengthAdjust="spacingAndGlyphs" fill="#900030">-1.602</text>
<path d="M660 464L664.5 458.8H693.2V469.2H664.5z" fill="#fff" stroke="#000" stroke-width="1"/>
<text x="665" y="467.8" font-size="10.5" textLength="26" lengthAdjust="spacingAndGlyphs" fill="#000">0.504</text>
<path d="M660 472.5L664.5 467.3H694.4V477.7H664.5z" fill="#fff" stroke="#000" stroke-width="1"/>
<text x="665" y="476.3" font-size="10.5" textLength="28.5" lengthAdjust="spacingAndGlyphs" fill="#000">-1.098</text>
<line x1="568.5" y1="174" x2="681.7" y2="285.5" stroke="#1414ff" stroke-width="1.3"/>
</svg></body></html>
